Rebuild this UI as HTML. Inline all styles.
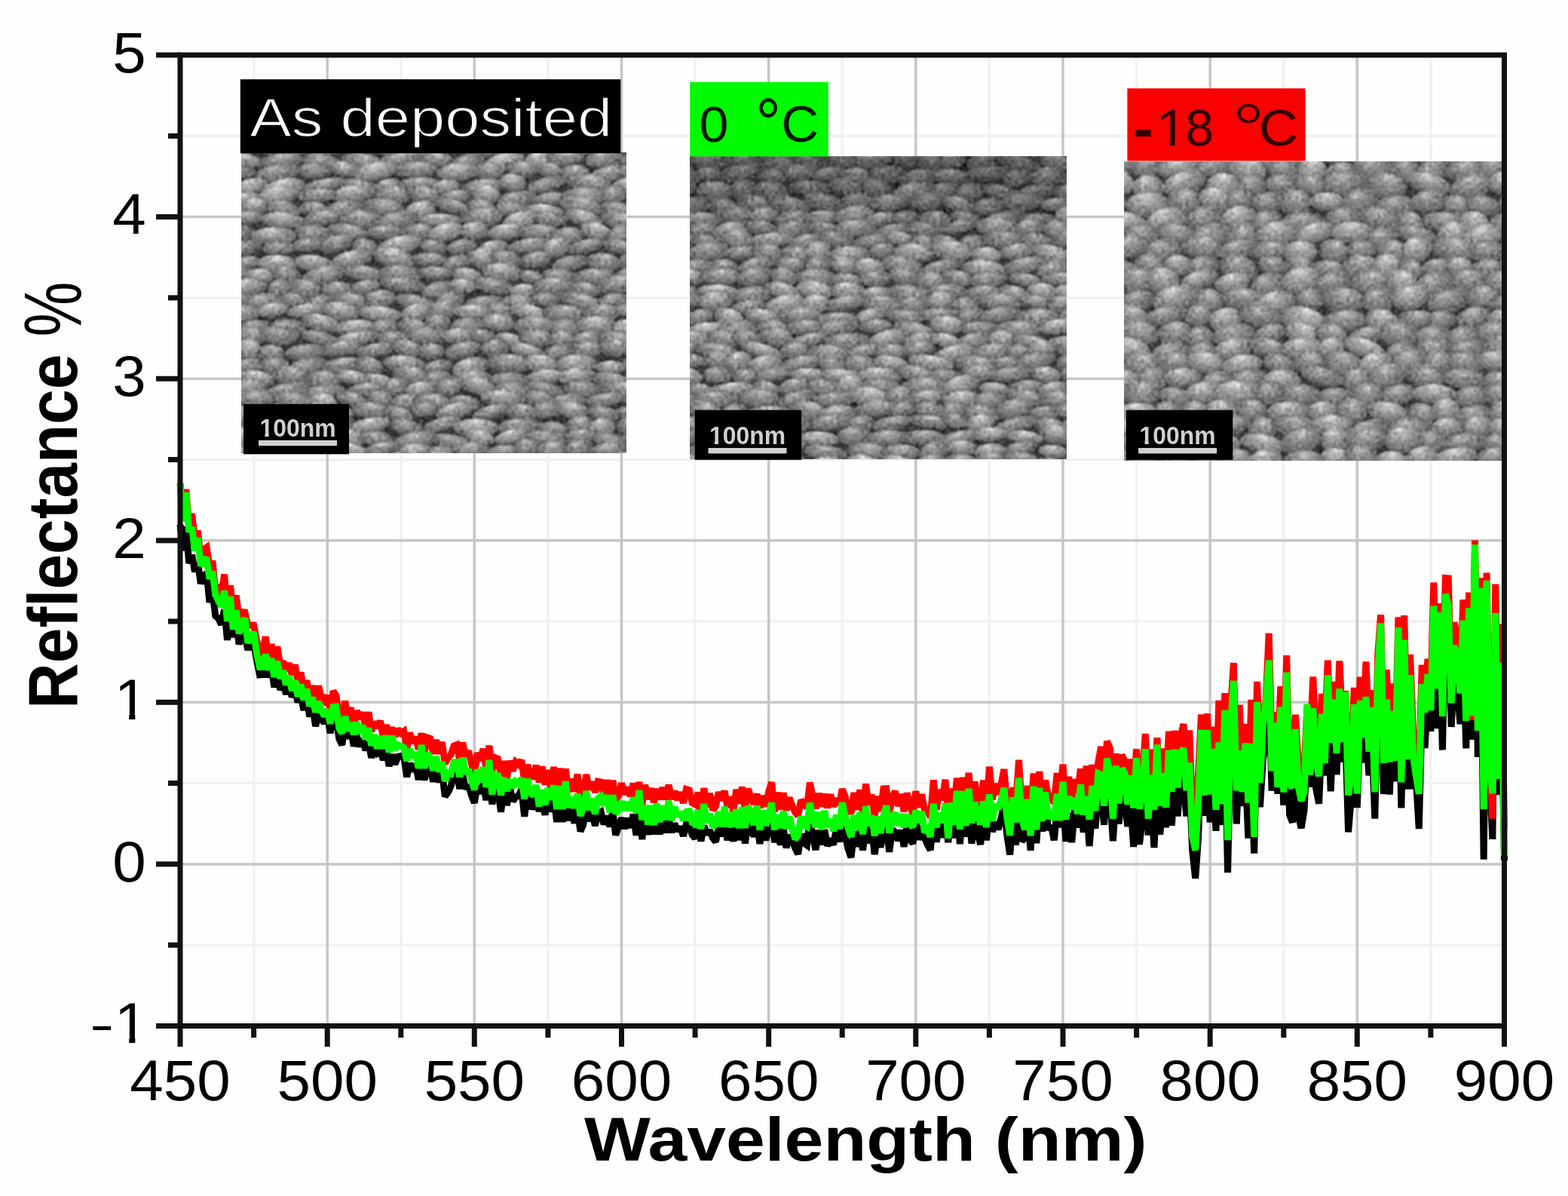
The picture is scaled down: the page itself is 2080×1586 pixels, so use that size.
<!DOCTYPE html><html><head><meta charset="utf-8"><title>Reflectance</title><style>html,body{margin:0;padding:0;background:#fff;}svg{display:block;}#fig{filter:blur(0.75px);}text{font-family:"Liberation Sans",Arial,sans-serif;}</style></head><body>
<svg id="fig" width="2080" height="1586" viewBox="0 0 2080 1586">
<rect width="2080" height="1586" fill="#fefefe"/>
<g><line x1="336.6" y1="73.0" x2="336.6" y2="1360.5" stroke="#f1f1f1" stroke-width="3.5"/><line x1="531.8" y1="73.0" x2="531.8" y2="1360.5" stroke="#f1f1f1" stroke-width="3.5"/><line x1="726.9" y1="73.0" x2="726.9" y2="1360.5" stroke="#f1f1f1" stroke-width="3.5"/><line x1="922.1" y1="73.0" x2="922.1" y2="1360.5" stroke="#f1f1f1" stroke-width="3.5"/><line x1="1117.2" y1="73.0" x2="1117.2" y2="1360.5" stroke="#f1f1f1" stroke-width="3.5"/><line x1="1312.4" y1="73.0" x2="1312.4" y2="1360.5" stroke="#f1f1f1" stroke-width="3.5"/><line x1="1507.6" y1="73.0" x2="1507.6" y2="1360.5" stroke="#f1f1f1" stroke-width="3.5"/><line x1="1702.8" y1="73.0" x2="1702.8" y2="1360.5" stroke="#f1f1f1" stroke-width="3.5"/><line x1="1897.9" y1="73.0" x2="1897.9" y2="1360.5" stroke="#f1f1f1" stroke-width="3.5"/><line x1="239.0" y1="180.3" x2="1995.5" y2="180.3" stroke="#f1f1f1" stroke-width="3.5"/><line x1="239.0" y1="394.9" x2="1995.5" y2="394.9" stroke="#f1f1f1" stroke-width="3.5"/><line x1="239.0" y1="609.5" x2="1995.5" y2="609.5" stroke="#f1f1f1" stroke-width="3.5"/><line x1="239.0" y1="824.0" x2="1995.5" y2="824.0" stroke="#f1f1f1" stroke-width="3.5"/><line x1="239.0" y1="1038.6" x2="1995.5" y2="1038.6" stroke="#f1f1f1" stroke-width="3.5"/><line x1="239.0" y1="1253.2" x2="1995.5" y2="1253.2" stroke="#f1f1f1" stroke-width="3.5"/><line x1="434.2" y1="73.0" x2="434.2" y2="1360.5" stroke="#c6c6c6" stroke-width="3.5"/><line x1="629.3" y1="73.0" x2="629.3" y2="1360.5" stroke="#c6c6c6" stroke-width="3.5"/><line x1="824.5" y1="73.0" x2="824.5" y2="1360.5" stroke="#c6c6c6" stroke-width="3.5"/><line x1="1019.7" y1="73.0" x2="1019.7" y2="1360.5" stroke="#c6c6c6" stroke-width="3.5"/><line x1="1214.8" y1="73.0" x2="1214.8" y2="1360.5" stroke="#c6c6c6" stroke-width="3.5"/><line x1="1410.0" y1="73.0" x2="1410.0" y2="1360.5" stroke="#c6c6c6" stroke-width="3.5"/><line x1="1605.2" y1="73.0" x2="1605.2" y2="1360.5" stroke="#c6c6c6" stroke-width="3.5"/><line x1="1800.3" y1="73.0" x2="1800.3" y2="1360.5" stroke="#c6c6c6" stroke-width="3.5"/><line x1="239.0" y1="1145.9" x2="1995.5" y2="1145.9" stroke="#c6c6c6" stroke-width="3.5"/><line x1="239.0" y1="931.3" x2="1995.5" y2="931.3" stroke="#c6c6c6" stroke-width="3.5"/><line x1="239.0" y1="716.8" x2="1995.5" y2="716.8" stroke="#c6c6c6" stroke-width="3.5"/><line x1="239.0" y1="502.2" x2="1995.5" y2="502.2" stroke="#c6c6c6" stroke-width="3.5"/><line x1="239.0" y1="287.6" x2="1995.5" y2="287.6" stroke="#c6c6c6" stroke-width="3.5"/></g>
<defs>
<radialGradient id="gA" cx="0.5" cy="0.42" r="0.62" fx="0.42" fy="0.12"><stop offset="0" stop-color="#e6e6e6"/><stop offset="0.3" stop-color="#b4b4b4"/><stop offset="0.75" stop-color="#7c7c7c"/><stop offset="1" stop-color="#585858"/></radialGradient>
<radialGradient id="gB" cx="0.5" cy="0.42" r="0.62" fx="0.55" fy="0.15"><stop offset="0" stop-color="#d2d2d2"/><stop offset="0.3" stop-color="#a2a2a2"/><stop offset="0.75" stop-color="#727272"/><stop offset="1" stop-color="#505050"/></radialGradient>
<radialGradient id="gC" cx="0.5" cy="0.42" r="0.62" fx="0.5" fy="0.1"><stop offset="0" stop-color="#f0f0f0"/><stop offset="0.25" stop-color="#c0c0c0"/><stop offset="0.7" stop-color="#8c8c8c"/><stop offset="1" stop-color="#5e5e5e"/></radialGradient>
<radialGradient id="gD" cx="0.5" cy="0.45" r="0.62" fx="0.4" fy="0.2"><stop offset="0" stop-color="#c4c4c4"/><stop offset="0.35" stop-color="#969696"/><stop offset="0.8" stop-color="#6a6a6a"/><stop offset="1" stop-color="#4a4a4a"/></radialGradient>
<linearGradient id="shd" x1="0" y1="0" x2="0" y2="1"><stop offset="0" stop-color="#000" stop-opacity="0.35"/><stop offset="1" stop-color="#000" stop-opacity="0"/></linearGradient>
<filter id="semf" x="0" y="0" width="1" height="1" color-interpolation-filters="sRGB">
<feTurbulence type="fractalNoise" baseFrequency="0.22" numOctaves="2" seed="7" result="n"/>
<feColorMatrix in="n" type="matrix" values="0.33 0.33 0.33 0 0  0.33 0.33 0.33 0 0  0.33 0.33 0.33 0 0  0 0 0 0 1" result="g"/>
<feComposite in="SourceGraphic" in2="g" operator="arithmetic" k1="0" k2="1" k3="0.85" k4="-0.41" result="c"/>
<feGaussianBlur in="c" stdDeviation="0.9"/>
</filter>
</defs>
<svg x="320" y="202" width="511" height="399" viewBox="0 0 511 399" overflow="hidden"><g filter="url(#semf)"><rect width="511" height="399" fill="#3a3a3a"/><ellipse cx="-6" cy="-10" rx="29" ry="12" fill="url(#gD)" transform="rotate(8 -6 -10)"/><ellipse cx="39" cy="-9" rx="22" ry="10" fill="url(#gD)" transform="rotate(-2 39 -9)"/><ellipse cx="76" cy="-7" rx="17" ry="11" fill="url(#gB)" transform="rotate(3 76 -7)"/><ellipse cx="107" cy="-7" rx="21" ry="9" fill="url(#gA)" transform="rotate(14 107 -7)"/><ellipse cx="143" cy="-12" rx="20" ry="11" fill="url(#gB)" transform="rotate(8 143 -12)"/><ellipse cx="187" cy="-7" rx="25" ry="10" fill="url(#gD)" transform="rotate(14 187 -7)"/><ellipse cx="234" cy="-5" rx="23" ry="13" fill="url(#gA)" transform="rotate(-10 234 -5)"/><ellipse cx="286" cy="-10" rx="29" ry="9" fill="url(#gD)" transform="rotate(15 286 -10)"/><ellipse cx="339" cy="-5" rx="31" ry="11" fill="url(#gB)" transform="rotate(-6 339 -5)"/><ellipse cx="393" cy="-8" rx="29" ry="13" fill="url(#gB)" transform="rotate(11 393 -8)"/><ellipse cx="444" cy="-7" rx="27" ry="11" fill="url(#gC)" transform="rotate(2 444 -7)"/><ellipse cx="494" cy="-9" rx="26" ry="10" fill="url(#gB)" transform="rotate(-13 494 -9)"/><ellipse cx="539" cy="-7" rx="29" ry="10" fill="url(#gD)" transform="rotate(-15 539 -7)"/><ellipse cx="6" cy="11" rx="23" ry="9" fill="url(#gA)" transform="rotate(9 6 11)"/><ellipse cx="53" cy="11" rx="29" ry="10" fill="url(#gB)" transform="rotate(-5 53 11)"/><ellipse cx="107" cy="13" rx="26" ry="12" fill="url(#gD)" transform="rotate(9 107 13)"/><ellipse cx="161" cy="13" rx="29" ry="12" fill="url(#gB)" transform="rotate(9 161 13)"/><ellipse cx="210" cy="10" rx="30" ry="11" fill="url(#gB)" transform="rotate(-10 210 10)"/><ellipse cx="258" cy="10" rx="24" ry="10" fill="url(#gB)" transform="rotate(1 258 10)"/><ellipse cx="301" cy="13" rx="22" ry="11" fill="url(#gD)" transform="rotate(-10 301 13)"/><ellipse cx="348" cy="13" rx="29" ry="12" fill="url(#gC)" transform="rotate(-15 348 13)"/><ellipse cx="394" cy="11" rx="18" ry="13" fill="url(#gC)" transform="rotate(-8 394 11)"/><ellipse cx="431" cy="8" rx="26" ry="10" fill="url(#gB)" transform="rotate(-8 431 8)"/><ellipse cx="482" cy="9" rx="26" ry="12" fill="url(#gD)" transform="rotate(-6 482 9)"/><ellipse cx="520" cy="10" rx="17" ry="10" fill="url(#gB)" transform="rotate(-8 520 10)"/><ellipse cx="558" cy="15" rx="27" ry="13" fill="url(#gD)" transform="rotate(10 558 15)"/><ellipse cx="-7" cy="27" rx="27" ry="9" fill="url(#gD)" transform="rotate(-2 -7 27)"/><ellipse cx="49" cy="27" rx="31" ry="12" fill="url(#gD)" transform="rotate(-9 49 27)"/><ellipse cx="97" cy="24" rx="23" ry="11" fill="url(#gD)" transform="rotate(-2 97 24)"/><ellipse cx="136" cy="22" rx="19" ry="10" fill="url(#gA)" transform="rotate(11 136 22)"/><ellipse cx="179" cy="25" rx="30" ry="12" fill="url(#gC)" transform="rotate(-12 179 25)"/><ellipse cx="232" cy="23" rx="29" ry="11" fill="url(#gB)" transform="rotate(-1 232 23)"/><ellipse cx="288" cy="26" rx="29" ry="12" fill="url(#gA)" transform="rotate(-4 288 26)"/><ellipse cx="329" cy="25" rx="20" ry="12" fill="url(#gB)" transform="rotate(-0 329 25)"/><ellipse cx="371" cy="22" rx="22" ry="11" fill="url(#gB)" transform="rotate(12 371 22)"/><ellipse cx="409" cy="24" rx="17" ry="10" fill="url(#gB)" transform="rotate(9 409 24)"/><ellipse cx="442" cy="28" rx="20" ry="12" fill="url(#gB)" transform="rotate(-5 442 28)"/><ellipse cx="487" cy="29" rx="27" ry="11" fill="url(#gB)" transform="rotate(-14 487 29)"/><ellipse cx="521" cy="26" rx="19" ry="9" fill="url(#gC)" transform="rotate(8 521 26)"/><ellipse cx="566" cy="24" rx="29" ry="10" fill="url(#gC)" transform="rotate(-8 566 24)"/><ellipse cx="12" cy="46" rx="24" ry="11" fill="url(#gC)" transform="rotate(-15 12 46)"/><ellipse cx="56" cy="47" rx="29" ry="12" fill="url(#gC)" transform="rotate(-12 56 47)"/><ellipse cx="109" cy="44" rx="30" ry="9" fill="url(#gB)" transform="rotate(-13 109 44)"/><ellipse cx="159" cy="47" rx="29" ry="11" fill="url(#gD)" transform="rotate(13 159 47)"/><ellipse cx="195" cy="45" rx="18" ry="10" fill="url(#gA)" transform="rotate(-13 195 45)"/><ellipse cx="235" cy="42" rx="29" ry="9" fill="url(#gB)" transform="rotate(-3 235 42)"/><ellipse cx="272" cy="46" rx="19" ry="10" fill="url(#gA)" transform="rotate(-2 272 46)"/><ellipse cx="320" cy="46" rx="28" ry="11" fill="url(#gB)" transform="rotate(-8 320 46)"/><ellipse cx="360" cy="40" rx="18" ry="12" fill="url(#gA)" transform="rotate(9 360 40)"/><ellipse cx="405" cy="43" rx="27" ry="10" fill="url(#gD)" transform="rotate(-14 405 43)"/><ellipse cx="461" cy="41" rx="31" ry="13" fill="url(#gB)" transform="rotate(9 461 41)"/><ellipse cx="519" cy="44" rx="29" ry="13" fill="url(#gC)" transform="rotate(-8 519 44)"/><ellipse cx="563" cy="41" rx="21" ry="10" fill="url(#gC)" transform="rotate(-13 563 41)"/><ellipse cx="5" cy="63" rx="22" ry="10" fill="url(#gA)" transform="rotate(-6 5 63)"/><ellipse cx="49" cy="57" rx="29" ry="13" fill="url(#gC)" transform="rotate(-13 49 57)"/><ellipse cx="101" cy="57" rx="28" ry="9" fill="url(#gB)" transform="rotate(-3 101 57)"/><ellipse cx="149" cy="55" rx="29" ry="12" fill="url(#gA)" transform="rotate(-7 149 55)"/><ellipse cx="200" cy="56" rx="24" ry="13" fill="url(#gB)" transform="rotate(9 200 56)"/><ellipse cx="241" cy="56" rx="24" ry="12" fill="url(#gB)" transform="rotate(16 241 56)"/><ellipse cx="284" cy="59" rx="21" ry="9" fill="url(#gB)" transform="rotate(-7 284 59)"/><ellipse cx="324" cy="55" rx="19" ry="13" fill="url(#gC)" transform="rotate(10 324 55)"/><ellipse cx="366" cy="62" rx="26" ry="11" fill="url(#gD)" transform="rotate(-9 366 62)"/><ellipse cx="409" cy="62" rx="25" ry="9" fill="url(#gB)" transform="rotate(-8 409 62)"/><ellipse cx="454" cy="59" rx="30" ry="13" fill="url(#gB)" transform="rotate(-2 454 59)"/><ellipse cx="495" cy="56" rx="17" ry="13" fill="url(#gD)" transform="rotate(-15 495 56)"/><ellipse cx="533" cy="55" rx="23" ry="11" fill="url(#gC)" transform="rotate(3 533 55)"/><ellipse cx="20" cy="71" rx="21" ry="11" fill="url(#gA)" transform="rotate(-9 20 71)"/><ellipse cx="56" cy="75" rx="24" ry="11" fill="url(#gD)" transform="rotate(14 56 75)"/><ellipse cx="97" cy="75" rx="20" ry="10" fill="url(#gB)" transform="rotate(7 97 75)"/><ellipse cx="137" cy="75" rx="26" ry="12" fill="url(#gD)" transform="rotate(-9 137 75)"/><ellipse cx="189" cy="73" rx="28" ry="12" fill="url(#gB)" transform="rotate(9 189 73)"/><ellipse cx="237" cy="77" rx="21" ry="12" fill="url(#gC)" transform="rotate(-11 237 77)"/><ellipse cx="279" cy="71" rx="24" ry="9" fill="url(#gB)" transform="rotate(15 279 71)"/><ellipse cx="317" cy="72" rx="19" ry="10" fill="url(#gB)" transform="rotate(7 317 72)"/><ellipse cx="359" cy="75" rx="24" ry="10" fill="url(#gD)" transform="rotate(0 359 75)"/><ellipse cx="401" cy="78" rx="27" ry="9" fill="url(#gC)" transform="rotate(4 401 78)"/><ellipse cx="450" cy="71" rx="30" ry="13" fill="url(#gB)" transform="rotate(11 450 71)"/><ellipse cx="502" cy="77" rx="27" ry="11" fill="url(#gD)" transform="rotate(14 502 77)"/><ellipse cx="550" cy="74" rx="23" ry="13" fill="url(#gB)" transform="rotate(13 550 74)"/><ellipse cx="7" cy="87" rx="23" ry="9" fill="url(#gB)" transform="rotate(-4 7 87)"/><ellipse cx="55" cy="90" rx="30" ry="11" fill="url(#gA)" transform="rotate(4 55 90)"/><ellipse cx="109" cy="87" rx="29" ry="10" fill="url(#gB)" transform="rotate(-10 109 87)"/><ellipse cx="157" cy="89" rx="28" ry="13" fill="url(#gB)" transform="rotate(1 157 89)"/><ellipse cx="207" cy="90" rx="29" ry="12" fill="url(#gD)" transform="rotate(-9 207 90)"/><ellipse cx="264" cy="90" rx="30" ry="9" fill="url(#gA)" transform="rotate(1 264 90)"/><ellipse cx="320" cy="86" rx="28" ry="13" fill="url(#gB)" transform="rotate(-4 320 86)"/><ellipse cx="369" cy="91" rx="23" ry="12" fill="url(#gC)" transform="rotate(-16 369 91)"/><ellipse cx="410" cy="88" rx="23" ry="10" fill="url(#gD)" transform="rotate(6 410 88)"/><ellipse cx="454" cy="87" rx="26" ry="10" fill="url(#gA)" transform="rotate(16 454 87)"/><ellipse cx="503" cy="91" rx="27" ry="12" fill="url(#gB)" transform="rotate(16 503 91)"/><ellipse cx="552" cy="91" rx="29" ry="11" fill="url(#gC)" transform="rotate(6 552 91)"/><ellipse cx="-8" cy="108" rx="24" ry="12" fill="url(#gD)" transform="rotate(-5 -8 108)"/><ellipse cx="43" cy="111" rx="31" ry="12" fill="url(#gA)" transform="rotate(-0 43 111)"/><ellipse cx="96" cy="108" rx="26" ry="12" fill="url(#gD)" transform="rotate(7 96 108)"/><ellipse cx="141" cy="105" rx="28" ry="10" fill="url(#gB)" transform="rotate(9 141 105)"/><ellipse cx="192" cy="105" rx="25" ry="10" fill="url(#gD)" transform="rotate(-3 192 105)"/><ellipse cx="235" cy="105" rx="21" ry="11" fill="url(#gB)" transform="rotate(-1 235 105)"/><ellipse cx="271" cy="106" rx="24" ry="12" fill="url(#gC)" transform="rotate(-14 271 106)"/><ellipse cx="309" cy="104" rx="19" ry="12" fill="url(#gA)" transform="rotate(-3 309 104)"/><ellipse cx="351" cy="105" rx="25" ry="10" fill="url(#gC)" transform="rotate(-7 351 105)"/><ellipse cx="395" cy="106" rx="29" ry="11" fill="url(#gB)" transform="rotate(2 395 106)"/><ellipse cx="433" cy="111" rx="21" ry="12" fill="url(#gB)" transform="rotate(-7 433 111)"/><ellipse cx="470" cy="104" rx="20" ry="11" fill="url(#gC)" transform="rotate(12 470 104)"/><ellipse cx="505" cy="109" rx="20" ry="13" fill="url(#gD)" transform="rotate(-15 505 109)"/><ellipse cx="550" cy="106" rx="26" ry="10" fill="url(#gB)" transform="rotate(9 550 106)"/><ellipse cx="-3" cy="128" rx="31" ry="11" fill="url(#gD)" transform="rotate(-11 -3 128)"/><ellipse cx="51" cy="127" rx="23" ry="9" fill="url(#gD)" transform="rotate(-2 51 127)"/><ellipse cx="89" cy="122" rx="23" ry="9" fill="url(#gD)" transform="rotate(-6 89 122)"/><ellipse cx="126" cy="121" rx="23" ry="11" fill="url(#gB)" transform="rotate(-15 126 121)"/><ellipse cx="164" cy="126" rx="17" ry="12" fill="url(#gD)" transform="rotate(7 164 126)"/><ellipse cx="210" cy="123" rx="30" ry="12" fill="url(#gC)" transform="rotate(-12 210 123)"/><ellipse cx="255" cy="125" rx="18" ry="10" fill="url(#gD)" transform="rotate(8 255 125)"/><ellipse cx="293" cy="125" rx="20" ry="10" fill="url(#gD)" transform="rotate(-9 293 125)"/><ellipse cx="333" cy="128" rx="22" ry="11" fill="url(#gA)" transform="rotate(-15 333 128)"/><ellipse cx="381" cy="124" rx="29" ry="10" fill="url(#gB)" transform="rotate(-7 381 124)"/><ellipse cx="419" cy="126" rx="19" ry="13" fill="url(#gA)" transform="rotate(-16 419 126)"/><ellipse cx="458" cy="124" rx="26" ry="9" fill="url(#gB)" transform="rotate(-13 458 124)"/><ellipse cx="501" cy="125" rx="21" ry="9" fill="url(#gB)" transform="rotate(11 501 125)"/><ellipse cx="534" cy="121" rx="21" ry="9" fill="url(#gA)" transform="rotate(-0 534 121)"/><ellipse cx="568" cy="122" rx="21" ry="13" fill="url(#gD)" transform="rotate(-4 568 122)"/><ellipse cx="6" cy="147" rx="20" ry="9" fill="url(#gB)" transform="rotate(-10 6 147)"/><ellipse cx="48" cy="148" rx="27" ry="12" fill="url(#gC)" transform="rotate(2 48 148)"/><ellipse cx="96" cy="147" rx="27" ry="11" fill="url(#gA)" transform="rotate(7 96 147)"/><ellipse cx="147" cy="142" rx="27" ry="12" fill="url(#gA)" transform="rotate(-11 147 142)"/><ellipse cx="203" cy="140" rx="29" ry="13" fill="url(#gA)" transform="rotate(13 203 140)"/><ellipse cx="249" cy="142" rx="24" ry="9" fill="url(#gB)" transform="rotate(1 249 142)"/><ellipse cx="286" cy="146" rx="19" ry="10" fill="url(#gD)" transform="rotate(-15 286 146)"/><ellipse cx="319" cy="141" rx="18" ry="13" fill="url(#gA)" transform="rotate(12 319 141)"/><ellipse cx="351" cy="142" rx="21" ry="12" fill="url(#gD)" transform="rotate(10 351 142)"/><ellipse cx="391" cy="142" rx="21" ry="11" fill="url(#gB)" transform="rotate(-9 391 142)"/><ellipse cx="436" cy="147" rx="24" ry="10" fill="url(#gD)" transform="rotate(-13 436 147)"/><ellipse cx="480" cy="146" rx="23" ry="13" fill="url(#gB)" transform="rotate(6 480 146)"/><ellipse cx="528" cy="142" rx="30" ry="13" fill="url(#gB)" transform="rotate(-10 528 142)"/><ellipse cx="571" cy="141" rx="22" ry="11" fill="url(#gA)" transform="rotate(-15 571 141)"/><ellipse cx="-6" cy="160" rx="21" ry="10" fill="url(#gD)" transform="rotate(1 -6 160)"/><ellipse cx="24" cy="164" rx="19" ry="10" fill="url(#gC)" transform="rotate(2 24 164)"/><ellipse cx="59" cy="161" rx="21" ry="11" fill="url(#gD)" transform="rotate(15 59 161)"/><ellipse cx="109" cy="164" rx="30" ry="13" fill="url(#gB)" transform="rotate(-14 109 164)"/><ellipse cx="161" cy="160" rx="29" ry="10" fill="url(#gB)" transform="rotate(8 161 160)"/><ellipse cx="212" cy="161" rx="30" ry="12" fill="url(#gD)" transform="rotate(3 212 161)"/><ellipse cx="257" cy="160" rx="24" ry="9" fill="url(#gB)" transform="rotate(2 257 160)"/><ellipse cx="300" cy="164" rx="20" ry="11" fill="url(#gA)" transform="rotate(10 300 164)"/><ellipse cx="346" cy="159" rx="27" ry="12" fill="url(#gA)" transform="rotate(4 346 159)"/><ellipse cx="385" cy="165" rx="18" ry="9" fill="url(#gD)" transform="rotate(11 385 165)"/><ellipse cx="422" cy="165" rx="23" ry="11" fill="url(#gD)" transform="rotate(7 422 165)"/><ellipse cx="468" cy="165" rx="29" ry="11" fill="url(#gB)" transform="rotate(-2 468 165)"/><ellipse cx="518" cy="164" rx="25" ry="13" fill="url(#gD)" transform="rotate(-14 518 164)"/><ellipse cx="571" cy="158" rx="31" ry="11" fill="url(#gB)" transform="rotate(9 571 158)"/><ellipse cx="6" cy="179" rx="29" ry="12" fill="url(#gA)" transform="rotate(-5 6 179)"/><ellipse cx="52" cy="180" rx="17" ry="13" fill="url(#gD)" transform="rotate(-16 52 180)"/><ellipse cx="84" cy="181" rx="21" ry="13" fill="url(#gB)" transform="rotate(5 84 181)"/><ellipse cx="126" cy="182" rx="21" ry="11" fill="url(#gB)" transform="rotate(-3 126 182)"/><ellipse cx="164" cy="179" rx="21" ry="10" fill="url(#gB)" transform="rotate(-12 164 179)"/><ellipse cx="214" cy="175" rx="31" ry="10" fill="url(#gD)" transform="rotate(8 214 175)"/><ellipse cx="261" cy="182" rx="22" ry="11" fill="url(#gD)" transform="rotate(-15 261 182)"/><ellipse cx="293" cy="177" rx="18" ry="9" fill="url(#gC)" transform="rotate(9 293 177)"/><ellipse cx="334" cy="177" rx="27" ry="11" fill="url(#gD)" transform="rotate(10 334 177)"/><ellipse cx="374" cy="183" rx="19" ry="9" fill="url(#gC)" transform="rotate(-4 374 183)"/><ellipse cx="414" cy="178" rx="28" ry="13" fill="url(#gB)" transform="rotate(-7 414 178)"/><ellipse cx="455" cy="182" rx="21" ry="10" fill="url(#gB)" transform="rotate(7 455 182)"/><ellipse cx="502" cy="175" rx="31" ry="12" fill="url(#gB)" transform="rotate(-9 502 175)"/><ellipse cx="548" cy="176" rx="27" ry="9" fill="url(#gA)" transform="rotate(-3 548 176)"/><ellipse cx="-11" cy="198" rx="26" ry="13" fill="url(#gB)" transform="rotate(-2 -11 198)"/><ellipse cx="30" cy="199" rx="26" ry="13" fill="url(#gD)" transform="rotate(-3 30 199)"/><ellipse cx="71" cy="196" rx="19" ry="10" fill="url(#gD)" transform="rotate(10 71 196)"/><ellipse cx="105" cy="199" rx="18" ry="10" fill="url(#gD)" transform="rotate(-12 105 199)"/><ellipse cx="145" cy="197" rx="27" ry="11" fill="url(#gB)" transform="rotate(11 145 197)"/><ellipse cx="183" cy="195" rx="22" ry="13" fill="url(#gB)" transform="rotate(-8 183 195)"/><ellipse cx="233" cy="200" rx="30" ry="11" fill="url(#gD)" transform="rotate(13 233 200)"/><ellipse cx="277" cy="196" rx="20" ry="12" fill="url(#gD)" transform="rotate(-13 277 196)"/><ellipse cx="323" cy="200" rx="27" ry="10" fill="url(#gD)" transform="rotate(-7 323 200)"/><ellipse cx="367" cy="200" rx="23" ry="12" fill="url(#gB)" transform="rotate(0 367 200)"/><ellipse cx="404" cy="195" rx="20" ry="9" fill="url(#gD)" transform="rotate(2 404 195)"/><ellipse cx="451" cy="198" rx="30" ry="11" fill="url(#gB)" transform="rotate(14 451 198)"/><ellipse cx="495" cy="197" rx="24" ry="10" fill="url(#gD)" transform="rotate(-4 495 197)"/><ellipse cx="535" cy="195" rx="22" ry="12" fill="url(#gB)" transform="rotate(6 535 195)"/><ellipse cx="-0" cy="215" rx="27" ry="12" fill="url(#gB)" transform="rotate(-6 -0 215)"/><ellipse cx="42" cy="209" rx="22" ry="9" fill="url(#gC)" transform="rotate(-9 42 209)"/><ellipse cx="89" cy="209" rx="29" ry="9" fill="url(#gA)" transform="rotate(-9 89 209)"/><ellipse cx="132" cy="211" rx="25" ry="13" fill="url(#gA)" transform="rotate(9 132 211)"/><ellipse cx="184" cy="214" rx="29" ry="10" fill="url(#gC)" transform="rotate(6 184 214)"/><ellipse cx="234" cy="212" rx="22" ry="12" fill="url(#gA)" transform="rotate(-12 234 212)"/><ellipse cx="268" cy="209" rx="19" ry="13" fill="url(#gB)" transform="rotate(-15 268 209)"/><ellipse cx="306" cy="211" rx="27" ry="9" fill="url(#gC)" transform="rotate(1 306 211)"/><ellipse cx="344" cy="211" rx="18" ry="13" fill="url(#gD)" transform="rotate(4 344 211)"/><ellipse cx="382" cy="212" rx="27" ry="10" fill="url(#gC)" transform="rotate(15 382 212)"/><ellipse cx="428" cy="214" rx="30" ry="12" fill="url(#gB)" transform="rotate(3 428 214)"/><ellipse cx="479" cy="213" rx="23" ry="12" fill="url(#gB)" transform="rotate(-1 479 213)"/><ellipse cx="526" cy="210" rx="30" ry="10" fill="url(#gC)" transform="rotate(2 526 210)"/><ellipse cx="568" cy="210" rx="24" ry="9" fill="url(#gD)" transform="rotate(-7 568 210)"/><ellipse cx="18" cy="231" rx="21" ry="9" fill="url(#gD)" transform="rotate(-4 18 231)"/><ellipse cx="61" cy="232" rx="25" ry="11" fill="url(#gD)" transform="rotate(0 61 232)"/><ellipse cx="106" cy="226" rx="26" ry="11" fill="url(#gA)" transform="rotate(13 106 226)"/><ellipse cx="152" cy="232" rx="29" ry="10" fill="url(#gC)" transform="rotate(-4 152 232)"/><ellipse cx="191" cy="232" rx="19" ry="12" fill="url(#gD)" transform="rotate(-12 191 232)"/><ellipse cx="228" cy="232" rx="21" ry="12" fill="url(#gB)" transform="rotate(14 228 232)"/><ellipse cx="261" cy="226" rx="17" ry="13" fill="url(#gD)" transform="rotate(2 261 226)"/><ellipse cx="301" cy="230" rx="23" ry="12" fill="url(#gD)" transform="rotate(-7 301 230)"/><ellipse cx="341" cy="226" rx="23" ry="11" fill="url(#gA)" transform="rotate(5 341 226)"/><ellipse cx="389" cy="230" rx="28" ry="13" fill="url(#gB)" transform="rotate(0 389 230)"/><ellipse cx="430" cy="233" rx="21" ry="13" fill="url(#gD)" transform="rotate(-5 430 233)"/><ellipse cx="472" cy="230" rx="27" ry="13" fill="url(#gA)" transform="rotate(2 472 230)"/><ellipse cx="511" cy="233" rx="19" ry="12" fill="url(#gC)" transform="rotate(-2 511 233)"/><ellipse cx="548" cy="232" rx="21" ry="12" fill="url(#gA)" transform="rotate(4 548 232)"/><ellipse cx="12" cy="243" rx="22" ry="12" fill="url(#gB)" transform="rotate(1 12 243)"/><ellipse cx="51" cy="243" rx="26" ry="13" fill="url(#gD)" transform="rotate(4 51 243)"/><ellipse cx="104" cy="246" rx="28" ry="9" fill="url(#gD)" transform="rotate(13 104 246)"/><ellipse cx="153" cy="247" rx="29" ry="9" fill="url(#gA)" transform="rotate(-8 153 247)"/><ellipse cx="203" cy="247" rx="22" ry="10" fill="url(#gD)" transform="rotate(-1 203 247)"/><ellipse cx="247" cy="243" rx="28" ry="12" fill="url(#gD)" transform="rotate(-3 247 243)"/><ellipse cx="288" cy="243" rx="24" ry="10" fill="url(#gA)" transform="rotate(-4 288 243)"/><ellipse cx="320" cy="243" rx="17" ry="9" fill="url(#gD)" transform="rotate(5 320 243)"/><ellipse cx="357" cy="249" rx="21" ry="9" fill="url(#gA)" transform="rotate(14 357 249)"/><ellipse cx="391" cy="247" rx="23" ry="12" fill="url(#gB)" transform="rotate(1 391 247)"/><ellipse cx="425" cy="249" rx="17" ry="13" fill="url(#gB)" transform="rotate(5 425 249)"/><ellipse cx="457" cy="249" rx="20" ry="12" fill="url(#gB)" transform="rotate(-10 457 249)"/><ellipse cx="498" cy="248" rx="24" ry="11" fill="url(#gB)" transform="rotate(7 498 248)"/><ellipse cx="546" cy="246" rx="27" ry="12" fill="url(#gB)" transform="rotate(-3 546 246)"/><ellipse cx="-20" cy="265" rx="18" ry="9" fill="url(#gA)" transform="rotate(15 -20 265)"/><ellipse cx="10" cy="261" rx="17" ry="13" fill="url(#gC)" transform="rotate(7 10 261)"/><ellipse cx="39" cy="266" rx="19" ry="11" fill="url(#gB)" transform="rotate(4 39 266)"/><ellipse cx="86" cy="265" rx="28" ry="11" fill="url(#gD)" transform="rotate(-4 86 265)"/><ellipse cx="133" cy="260" rx="28" ry="10" fill="url(#gB)" transform="rotate(-7 133 260)"/><ellipse cx="178" cy="262" rx="27" ry="9" fill="url(#gB)" transform="rotate(-8 178 262)"/><ellipse cx="219" cy="259" rx="22" ry="11" fill="url(#gB)" transform="rotate(15 219 259)"/><ellipse cx="252" cy="264" rx="18" ry="11" fill="url(#gB)" transform="rotate(-2 252 264)"/><ellipse cx="294" cy="262" rx="25" ry="11" fill="url(#gB)" transform="rotate(-13 294 262)"/><ellipse cx="337" cy="259" rx="19" ry="12" fill="url(#gD)" transform="rotate(-4 337 259)"/><ellipse cx="379" cy="263" rx="25" ry="9" fill="url(#gA)" transform="rotate(14 379 263)"/><ellipse cx="421" cy="265" rx="19" ry="10" fill="url(#gD)" transform="rotate(-5 421 265)"/><ellipse cx="459" cy="262" rx="20" ry="12" fill="url(#gB)" transform="rotate(-7 459 262)"/><ellipse cx="496" cy="259" rx="21" ry="12" fill="url(#gB)" transform="rotate(3 496 259)"/><ellipse cx="541" cy="259" rx="28" ry="10" fill="url(#gC)" transform="rotate(-11 541 259)"/><ellipse cx="11" cy="283" rx="19" ry="11" fill="url(#gD)" transform="rotate(-9 11 283)"/><ellipse cx="45" cy="284" rx="19" ry="13" fill="url(#gD)" transform="rotate(5 45 284)"/><ellipse cx="88" cy="284" rx="28" ry="11" fill="url(#gD)" transform="rotate(-12 88 284)"/><ellipse cx="134" cy="282" rx="28" ry="10" fill="url(#gB)" transform="rotate(-9 134 282)"/><ellipse cx="169" cy="283" rx="19" ry="12" fill="url(#gB)" transform="rotate(11 169 283)"/><ellipse cx="216" cy="280" rx="28" ry="11" fill="url(#gA)" transform="rotate(5 216 280)"/><ellipse cx="261" cy="284" rx="20" ry="9" fill="url(#gD)" transform="rotate(-9 261 284)"/><ellipse cx="304" cy="285" rx="25" ry="13" fill="url(#gA)" transform="rotate(-14 304 285)"/><ellipse cx="355" cy="280" rx="29" ry="13" fill="url(#gB)" transform="rotate(3 355 280)"/><ellipse cx="397" cy="280" rx="24" ry="11" fill="url(#gC)" transform="rotate(5 397 280)"/><ellipse cx="445" cy="281" rx="28" ry="13" fill="url(#gA)" transform="rotate(-1 445 281)"/><ellipse cx="490" cy="285" rx="19" ry="9" fill="url(#gC)" transform="rotate(-1 490 285)"/><ellipse cx="524" cy="283" rx="18" ry="13" fill="url(#gA)" transform="rotate(16 524 283)"/><ellipse cx="569" cy="281" rx="29" ry="12" fill="url(#gC)" transform="rotate(-1 569 281)"/><ellipse cx="20" cy="300" rx="24" ry="11" fill="url(#gC)" transform="rotate(9 20 300)"/><ellipse cx="64" cy="296" rx="25" ry="13" fill="url(#gB)" transform="rotate(9 64 296)"/><ellipse cx="109" cy="302" rx="23" ry="13" fill="url(#gB)" transform="rotate(3 109 302)"/><ellipse cx="147" cy="298" rx="24" ry="9" fill="url(#gC)" transform="rotate(8 147 298)"/><ellipse cx="183" cy="303" rx="22" ry="9" fill="url(#gA)" transform="rotate(11 183 303)"/><ellipse cx="224" cy="295" rx="24" ry="13" fill="url(#gB)" transform="rotate(13 224 295)"/><ellipse cx="260" cy="300" rx="19" ry="11" fill="url(#gD)" transform="rotate(-6 260 300)"/><ellipse cx="304" cy="302" rx="29" ry="13" fill="url(#gB)" transform="rotate(-4 304 302)"/><ellipse cx="356" cy="302" rx="28" ry="10" fill="url(#gD)" transform="rotate(2 356 302)"/><ellipse cx="405" cy="297" rx="26" ry="9" fill="url(#gC)" transform="rotate(-3 405 297)"/><ellipse cx="445" cy="297" rx="25" ry="12" fill="url(#gA)" transform="rotate(-7 445 297)"/><ellipse cx="491" cy="302" rx="27" ry="10" fill="url(#gB)" transform="rotate(10 491 302)"/><ellipse cx="529" cy="302" rx="21" ry="13" fill="url(#gB)" transform="rotate(-15 529 302)"/><ellipse cx="577" cy="303" rx="28" ry="9" fill="url(#gD)" transform="rotate(8 577 303)"/><ellipse cx="10" cy="313" rx="26" ry="13" fill="url(#gB)" transform="rotate(-9 10 313)"/><ellipse cx="62" cy="316" rx="31" ry="11" fill="url(#gD)" transform="rotate(-10 62 316)"/><ellipse cx="110" cy="318" rx="30" ry="10" fill="url(#gD)" transform="rotate(-5 110 318)"/><ellipse cx="166" cy="314" rx="26" ry="9" fill="url(#gB)" transform="rotate(-8 166 314)"/><ellipse cx="204" cy="311" rx="17" ry="12" fill="url(#gB)" transform="rotate(-15 204 311)"/><ellipse cx="237" cy="314" rx="20" ry="10" fill="url(#gC)" transform="rotate(-6 237 314)"/><ellipse cx="275" cy="312" rx="18" ry="11" fill="url(#gB)" transform="rotate(-6 275 312)"/><ellipse cx="315" cy="310" rx="23" ry="11" fill="url(#gA)" transform="rotate(14 315 310)"/><ellipse cx="360" cy="317" rx="25" ry="12" fill="url(#gD)" transform="rotate(3 360 317)"/><ellipse cx="404" cy="314" rx="26" ry="9" fill="url(#gD)" transform="rotate(14 404 314)"/><ellipse cx="453" cy="314" rx="25" ry="11" fill="url(#gD)" transform="rotate(3 453 314)"/><ellipse cx="504" cy="315" rx="30" ry="12" fill="url(#gB)" transform="rotate(11 504 315)"/><ellipse cx="554" cy="316" rx="24" ry="11" fill="url(#gB)" transform="rotate(1 554 316)"/><ellipse cx="18" cy="327" rx="28" ry="11" fill="url(#gB)" transform="rotate(-2 18 327)"/><ellipse cx="72" cy="330" rx="30" ry="12" fill="url(#gD)" transform="rotate(12 72 330)"/><ellipse cx="108" cy="332" rx="19" ry="13" fill="url(#gC)" transform="rotate(8 108 332)"/><ellipse cx="146" cy="327" rx="21" ry="9" fill="url(#gB)" transform="rotate(12 146 327)"/><ellipse cx="184" cy="327" rx="18" ry="12" fill="url(#gD)" transform="rotate(16 184 327)"/><ellipse cx="217" cy="332" rx="19" ry="12" fill="url(#gB)" transform="rotate(-5 217 332)"/><ellipse cx="254" cy="331" rx="26" ry="12" fill="url(#gB)" transform="rotate(8 254 331)"/><ellipse cx="297" cy="332" rx="21" ry="10" fill="url(#gD)" transform="rotate(10 297 332)"/><ellipse cx="347" cy="326" rx="30" ry="11" fill="url(#gA)" transform="rotate(4 347 326)"/><ellipse cx="393" cy="326" rx="20" ry="10" fill="url(#gB)" transform="rotate(7 393 326)"/><ellipse cx="434" cy="330" rx="27" ry="10" fill="url(#gD)" transform="rotate(-6 434 330)"/><ellipse cx="482" cy="328" rx="26" ry="9" fill="url(#gB)" transform="rotate(-5 482 328)"/><ellipse cx="530" cy="325" rx="24" ry="13" fill="url(#gD)" transform="rotate(-7 530 325)"/><ellipse cx="570" cy="327" rx="21" ry="9" fill="url(#gA)" transform="rotate(4 570 327)"/><ellipse cx="10" cy="348" rx="26" ry="13" fill="url(#gD)" transform="rotate(-4 10 348)"/><ellipse cx="46" cy="344" rx="18" ry="11" fill="url(#gB)" transform="rotate(-7 46 344)"/><ellipse cx="86" cy="345" rx="29" ry="10" fill="url(#gD)" transform="rotate(7 86 345)"/><ellipse cx="131" cy="344" rx="18" ry="9" fill="url(#gC)" transform="rotate(9 131 344)"/><ellipse cx="171" cy="342" rx="25" ry="11" fill="url(#gB)" transform="rotate(2 171 342)"/><ellipse cx="208" cy="347" rx="20" ry="10" fill="url(#gB)" transform="rotate(15 208 347)"/><ellipse cx="243" cy="341" rx="17" ry="10" fill="url(#gB)" transform="rotate(-10 243 341)"/><ellipse cx="285" cy="342" rx="28" ry="10" fill="url(#gA)" transform="rotate(-14 285 342)"/><ellipse cx="332" cy="344" rx="27" ry="9" fill="url(#gB)" transform="rotate(-15 332 344)"/><ellipse cx="372" cy="344" rx="22" ry="11" fill="url(#gB)" transform="rotate(5 372 344)"/><ellipse cx="406" cy="341" rx="20" ry="12" fill="url(#gD)" transform="rotate(-9 406 341)"/><ellipse cx="440" cy="342" rx="21" ry="11" fill="url(#gA)" transform="rotate(7 440 342)"/><ellipse cx="480" cy="346" rx="22" ry="10" fill="url(#gD)" transform="rotate(12 480 346)"/><ellipse cx="522" cy="348" rx="27" ry="9" fill="url(#gD)" transform="rotate(12 522 348)"/><ellipse cx="573" cy="341" rx="25" ry="9" fill="url(#gD)" transform="rotate(12 573 341)"/><ellipse cx="25" cy="363" rx="28" ry="10" fill="url(#gC)" transform="rotate(-6 25 363)"/><ellipse cx="76" cy="362" rx="24" ry="10" fill="url(#gC)" transform="rotate(2 76 362)"/><ellipse cx="126" cy="363" rx="27" ry="9" fill="url(#gD)" transform="rotate(-11 126 363)"/><ellipse cx="171" cy="362" rx="28" ry="10" fill="url(#gC)" transform="rotate(-11 171 362)"/><ellipse cx="219" cy="364" rx="21" ry="11" fill="url(#gD)" transform="rotate(13 219 364)"/><ellipse cx="266" cy="361" rx="27" ry="9" fill="url(#gB)" transform="rotate(-15 266 361)"/><ellipse cx="311" cy="365" rx="30" ry="12" fill="url(#gC)" transform="rotate(0 311 365)"/><ellipse cx="369" cy="364" rx="29" ry="12" fill="url(#gD)" transform="rotate(-4 369 364)"/><ellipse cx="413" cy="367" rx="20" ry="10" fill="url(#gB)" transform="rotate(7 413 367)"/><ellipse cx="449" cy="362" rx="18" ry="13" fill="url(#gB)" transform="rotate(-3 449 362)"/><ellipse cx="479" cy="365" rx="18" ry="13" fill="url(#gA)" transform="rotate(-10 479 365)"/><ellipse cx="517" cy="361" rx="20" ry="11" fill="url(#gB)" transform="rotate(-9 517 361)"/><ellipse cx="555" cy="364" rx="24" ry="13" fill="url(#gB)" transform="rotate(9 555 364)"/><ellipse cx="0" cy="378" rx="20" ry="13" fill="url(#gA)" transform="rotate(-7 0 378)"/><ellipse cx="32" cy="376" rx="19" ry="12" fill="url(#gD)" transform="rotate(-4 32 376)"/><ellipse cx="65" cy="381" rx="22" ry="12" fill="url(#gB)" transform="rotate(-13 65 381)"/><ellipse cx="103" cy="381" rx="20" ry="10" fill="url(#gD)" transform="rotate(7 103 381)"/><ellipse cx="143" cy="380" rx="20" ry="13" fill="url(#gA)" transform="rotate(11 143 380)"/><ellipse cx="180" cy="380" rx="22" ry="11" fill="url(#gD)" transform="rotate(8 180 380)"/><ellipse cx="229" cy="383" rx="31" ry="12" fill="url(#gB)" transform="rotate(-13 229 383)"/><ellipse cx="280" cy="384" rx="29" ry="10" fill="url(#gD)" transform="rotate(11 280 384)"/><ellipse cx="316" cy="378" rx="20" ry="10" fill="url(#gC)" transform="rotate(12 316 378)"/><ellipse cx="358" cy="377" rx="23" ry="9" fill="url(#gC)" transform="rotate(-14 358 377)"/><ellipse cx="405" cy="379" rx="30" ry="10" fill="url(#gD)" transform="rotate(7 405 379)"/><ellipse cx="449" cy="377" rx="21" ry="10" fill="url(#gB)" transform="rotate(-5 449 377)"/><ellipse cx="489" cy="383" rx="24" ry="11" fill="url(#gD)" transform="rotate(15 489 383)"/><ellipse cx="528" cy="376" rx="24" ry="12" fill="url(#gD)" transform="rotate(-8 528 376)"/><ellipse cx="566" cy="381" rx="18" ry="11" fill="url(#gD)" transform="rotate(-6 566 381)"/><ellipse cx="11" cy="397" rx="23" ry="10" fill="url(#gD)" transform="rotate(-2 11 397)"/><ellipse cx="52" cy="394" rx="22" ry="13" fill="url(#gC)" transform="rotate(-2 52 394)"/><ellipse cx="97" cy="392" rx="26" ry="10" fill="url(#gC)" transform="rotate(-10 97 392)"/><ellipse cx="143" cy="394" rx="30" ry="9" fill="url(#gC)" transform="rotate(15 143 394)"/><ellipse cx="186" cy="393" rx="24" ry="9" fill="url(#gB)" transform="rotate(-14 186 393)"/><ellipse cx="231" cy="399" rx="24" ry="13" fill="url(#gA)" transform="rotate(-6 231 399)"/><ellipse cx="265" cy="398" rx="19" ry="9" fill="url(#gD)" transform="rotate(4 265 398)"/><ellipse cx="303" cy="395" rx="25" ry="11" fill="url(#gB)" transform="rotate(-6 303 395)"/><ellipse cx="347" cy="398" rx="24" ry="10" fill="url(#gB)" transform="rotate(-7 347 398)"/><ellipse cx="379" cy="392" rx="17" ry="13" fill="url(#gD)" transform="rotate(7 379 392)"/><ellipse cx="412" cy="395" rx="20" ry="13" fill="url(#gB)" transform="rotate(-2 412 395)"/><ellipse cx="448" cy="392" rx="18" ry="12" fill="url(#gD)" transform="rotate(-12 448 392)"/><ellipse cx="485" cy="396" rx="24" ry="11" fill="url(#gB)" transform="rotate(-10 485 396)"/><ellipse cx="531" cy="399" rx="23" ry="10" fill="url(#gB)" transform="rotate(11 531 399)"/><ellipse cx="576" cy="392" rx="29" ry="9" fill="url(#gD)" transform="rotate(-14 576 392)"/><ellipse cx="17" cy="408" rx="23" ry="13" fill="url(#gA)" transform="rotate(8 17 408)"/><ellipse cx="56" cy="408" rx="23" ry="10" fill="url(#gD)" transform="rotate(1 56 408)"/><ellipse cx="102" cy="411" rx="29" ry="12" fill="url(#gB)" transform="rotate(-6 102 411)"/><ellipse cx="142" cy="413" rx="19" ry="9" fill="url(#gB)" transform="rotate(12 142 413)"/><ellipse cx="177" cy="410" rx="19" ry="12" fill="url(#gD)" transform="rotate(-11 177 410)"/><ellipse cx="213" cy="407" rx="22" ry="10" fill="url(#gD)" transform="rotate(7 213 407)"/><ellipse cx="255" cy="410" rx="27" ry="12" fill="url(#gC)" transform="rotate(-10 255 410)"/><ellipse cx="299" cy="411" rx="23" ry="11" fill="url(#gB)" transform="rotate(-6 299 411)"/><ellipse cx="346" cy="414" rx="24" ry="12" fill="url(#gC)" transform="rotate(7 346 414)"/><ellipse cx="388" cy="411" rx="25" ry="11" fill="url(#gD)" transform="rotate(10 388 411)"/><ellipse cx="431" cy="414" rx="19" ry="11" fill="url(#gB)" transform="rotate(-14 431 414)"/><ellipse cx="471" cy="410" rx="26" ry="9" fill="url(#gA)" transform="rotate(-5 471 410)"/><ellipse cx="514" cy="410" rx="25" ry="12" fill="url(#gC)" transform="rotate(13 514 410)"/><ellipse cx="563" cy="413" rx="31" ry="10" fill="url(#gA)" transform="rotate(-4 563 413)"/><rect width="511" height="399" fill="#000" opacity="0.06"/></g></svg>
<svg x="915" y="207" width="500" height="402" viewBox="0 0 500 402" overflow="hidden"><g filter="url(#semf)"><rect width="500" height="402" fill="#3a3a3a"/><ellipse cx="29" cy="-12" rx="30" ry="9" fill="url(#gB)" transform="rotate(8 29 -12)"/><ellipse cx="76" cy="-8" rx="21" ry="12" fill="url(#gB)" transform="rotate(6 76 -8)"/><ellipse cx="123" cy="-6" rx="26" ry="13" fill="url(#gB)" transform="rotate(14 123 -6)"/><ellipse cx="167" cy="-12" rx="23" ry="10" fill="url(#gA)" transform="rotate(-4 167 -12)"/><ellipse cx="219" cy="-5" rx="30" ry="11" fill="url(#gB)" transform="rotate(2 219 -5)"/><ellipse cx="256" cy="-11" rx="17" ry="10" fill="url(#gB)" transform="rotate(-4 256 -11)"/><ellipse cx="295" cy="-9" rx="25" ry="13" fill="url(#gD)" transform="rotate(8 295 -9)"/><ellipse cx="346" cy="-10" rx="28" ry="12" fill="url(#gD)" transform="rotate(-11 346 -10)"/><ellipse cx="398" cy="-8" rx="27" ry="11" fill="url(#gD)" transform="rotate(-7 398 -8)"/><ellipse cx="443" cy="-7" rx="24" ry="12" fill="url(#gD)" transform="rotate(13 443 -7)"/><ellipse cx="487" cy="-7" rx="25" ry="13" fill="url(#gD)" transform="rotate(5 487 -7)"/><ellipse cx="539" cy="-5" rx="28" ry="13" fill="url(#gB)" transform="rotate(-7 539 -5)"/><ellipse cx="25" cy="8" rx="27" ry="11" fill="url(#gD)" transform="rotate(4 25 8)"/><ellipse cx="72" cy="6" rx="27" ry="11" fill="url(#gD)" transform="rotate(4 72 6)"/><ellipse cx="117" cy="11" rx="28" ry="12" fill="url(#gB)" transform="rotate(16 117 11)"/><ellipse cx="159" cy="8" rx="25" ry="9" fill="url(#gD)" transform="rotate(12 159 8)"/><ellipse cx="199" cy="5" rx="24" ry="13" fill="url(#gB)" transform="rotate(14 199 5)"/><ellipse cx="243" cy="4" rx="30" ry="12" fill="url(#gC)" transform="rotate(-10 243 4)"/><ellipse cx="286" cy="4" rx="18" ry="13" fill="url(#gD)" transform="rotate(13 286 4)"/><ellipse cx="318" cy="9" rx="19" ry="13" fill="url(#gB)" transform="rotate(6 318 9)"/><ellipse cx="349" cy="5" rx="18" ry="13" fill="url(#gA)" transform="rotate(-16 349 5)"/><ellipse cx="392" cy="6" rx="26" ry="12" fill="url(#gD)" transform="rotate(-15 392 6)"/><ellipse cx="439" cy="11" rx="28" ry="12" fill="url(#gD)" transform="rotate(12 439 11)"/><ellipse cx="487" cy="9" rx="24" ry="10" fill="url(#gC)" transform="rotate(11 487 9)"/><ellipse cx="529" cy="8" rx="28" ry="13" fill="url(#gD)" transform="rotate(-0 529 8)"/><ellipse cx="-6" cy="28" rx="21" ry="13" fill="url(#gD)" transform="rotate(2 -6 28)"/><ellipse cx="25" cy="24" rx="18" ry="9" fill="url(#gA)" transform="rotate(-1 25 24)"/><ellipse cx="67" cy="23" rx="30" ry="12" fill="url(#gB)" transform="rotate(-9 67 23)"/><ellipse cx="110" cy="27" rx="21" ry="11" fill="url(#gB)" transform="rotate(7 110 27)"/><ellipse cx="146" cy="22" rx="23" ry="11" fill="url(#gA)" transform="rotate(-4 146 22)"/><ellipse cx="185" cy="23" rx="24" ry="9" fill="url(#gA)" transform="rotate(-10 185 23)"/><ellipse cx="221" cy="26" rx="20" ry="11" fill="url(#gC)" transform="rotate(1 221 26)"/><ellipse cx="262" cy="24" rx="27" ry="12" fill="url(#gD)" transform="rotate(-2 262 24)"/><ellipse cx="303" cy="30" rx="25" ry="13" fill="url(#gB)" transform="rotate(-10 303 30)"/><ellipse cx="346" cy="27" rx="28" ry="10" fill="url(#gA)" transform="rotate(4 346 27)"/><ellipse cx="396" cy="23" rx="31" ry="10" fill="url(#gD)" transform="rotate(-3 396 23)"/><ellipse cx="435" cy="29" rx="20" ry="12" fill="url(#gD)" transform="rotate(-14 435 29)"/><ellipse cx="475" cy="27" rx="23" ry="13" fill="url(#gA)" transform="rotate(-7 475 27)"/><ellipse cx="522" cy="28" rx="30" ry="9" fill="url(#gB)" transform="rotate(-12 522 28)"/><ellipse cx="-13" cy="43" rx="22" ry="13" fill="url(#gA)" transform="rotate(-13 -13 43)"/><ellipse cx="34" cy="46" rx="26" ry="13" fill="url(#gA)" transform="rotate(4 34 46)"/><ellipse cx="71" cy="43" rx="18" ry="12" fill="url(#gD)" transform="rotate(-11 71 43)"/><ellipse cx="108" cy="46" rx="24" ry="13" fill="url(#gD)" transform="rotate(10 108 46)"/><ellipse cx="160" cy="42" rx="29" ry="10" fill="url(#gD)" transform="rotate(3 160 42)"/><ellipse cx="209" cy="41" rx="27" ry="12" fill="url(#gD)" transform="rotate(10 209 41)"/><ellipse cx="247" cy="42" rx="22" ry="13" fill="url(#gD)" transform="rotate(13 247 42)"/><ellipse cx="297" cy="47" rx="30" ry="12" fill="url(#gA)" transform="rotate(-12 297 47)"/><ellipse cx="338" cy="46" rx="20" ry="12" fill="url(#gD)" transform="rotate(-10 338 46)"/><ellipse cx="371" cy="48" rx="19" ry="13" fill="url(#gD)" transform="rotate(-13 371 48)"/><ellipse cx="413" cy="48" rx="27" ry="10" fill="url(#gD)" transform="rotate(14 413 48)"/><ellipse cx="460" cy="47" rx="29" ry="10" fill="url(#gD)" transform="rotate(-11 460 47)"/><ellipse cx="500" cy="48" rx="17" ry="11" fill="url(#gB)" transform="rotate(-3 500 48)"/><ellipse cx="531" cy="46" rx="21" ry="10" fill="url(#gD)" transform="rotate(7 531 46)"/><ellipse cx="1" cy="66" rx="27" ry="12" fill="url(#gD)" transform="rotate(-9 1 66)"/><ellipse cx="46" cy="68" rx="23" ry="12" fill="url(#gD)" transform="rotate(13 46 68)"/><ellipse cx="86" cy="64" rx="24" ry="13" fill="url(#gB)" transform="rotate(10 86 64)"/><ellipse cx="130" cy="65" rx="30" ry="12" fill="url(#gB)" transform="rotate(12 130 65)"/><ellipse cx="177" cy="61" rx="28" ry="12" fill="url(#gD)" transform="rotate(13 177 61)"/><ellipse cx="224" cy="60" rx="24" ry="12" fill="url(#gD)" transform="rotate(-2 224 60)"/><ellipse cx="265" cy="62" rx="25" ry="11" fill="url(#gA)" transform="rotate(-5 265 62)"/><ellipse cx="313" cy="60" rx="24" ry="12" fill="url(#gB)" transform="rotate(-0 313 60)"/><ellipse cx="356" cy="64" rx="22" ry="10" fill="url(#gA)" transform="rotate(16 356 64)"/><ellipse cx="396" cy="67" rx="22" ry="12" fill="url(#gD)" transform="rotate(-8 396 67)"/><ellipse cx="443" cy="60" rx="29" ry="12" fill="url(#gD)" transform="rotate(-4 443 60)"/><ellipse cx="486" cy="64" rx="21" ry="9" fill="url(#gA)" transform="rotate(-4 486 64)"/><ellipse cx="525" cy="67" rx="22" ry="11" fill="url(#gC)" transform="rotate(-0 525 67)"/><ellipse cx="565" cy="62" rx="27" ry="12" fill="url(#gC)" transform="rotate(10 565 62)"/><ellipse cx="18" cy="84" rx="26" ry="10" fill="url(#gA)" transform="rotate(0 18 84)"/><ellipse cx="60" cy="79" rx="25" ry="13" fill="url(#gB)" transform="rotate(4 60 79)"/><ellipse cx="98" cy="79" rx="20" ry="11" fill="url(#gC)" transform="rotate(-14 98 79)"/><ellipse cx="137" cy="84" rx="26" ry="12" fill="url(#gB)" transform="rotate(-6 137 84)"/><ellipse cx="176" cy="81" rx="23" ry="9" fill="url(#gC)" transform="rotate(-1 176 81)"/><ellipse cx="218" cy="79" rx="27" ry="13" fill="url(#gC)" transform="rotate(-6 218 79)"/><ellipse cx="254" cy="83" rx="20" ry="9" fill="url(#gC)" transform="rotate(-10 254 83)"/><ellipse cx="286" cy="82" rx="19" ry="10" fill="url(#gD)" transform="rotate(-3 286 82)"/><ellipse cx="325" cy="85" rx="22" ry="13" fill="url(#gB)" transform="rotate(3 325 85)"/><ellipse cx="366" cy="83" rx="21" ry="10" fill="url(#gD)" transform="rotate(14 366 83)"/><ellipse cx="416" cy="83" rx="31" ry="10" fill="url(#gD)" transform="rotate(-14 416 83)"/><ellipse cx="461" cy="85" rx="24" ry="10" fill="url(#gD)" transform="rotate(-1 461 85)"/><ellipse cx="503" cy="79" rx="20" ry="13" fill="url(#gA)" transform="rotate(-13 503 79)"/><ellipse cx="534" cy="84" rx="18" ry="13" fill="url(#gD)" transform="rotate(-2 534 84)"/><ellipse cx="16" cy="98" rx="22" ry="10" fill="url(#gB)" transform="rotate(-4 16 98)"/><ellipse cx="54" cy="100" rx="24" ry="13" fill="url(#gC)" transform="rotate(-8 54 100)"/><ellipse cx="93" cy="95" rx="21" ry="10" fill="url(#gB)" transform="rotate(7 93 95)"/><ellipse cx="135" cy="98" rx="30" ry="12" fill="url(#gB)" transform="rotate(-10 135 98)"/><ellipse cx="176" cy="96" rx="23" ry="10" fill="url(#gB)" transform="rotate(11 176 96)"/><ellipse cx="220" cy="96" rx="28" ry="12" fill="url(#gA)" transform="rotate(-3 220 96)"/><ellipse cx="267" cy="100" rx="26" ry="10" fill="url(#gB)" transform="rotate(-13 267 100)"/><ellipse cx="313" cy="97" rx="26" ry="11" fill="url(#gD)" transform="rotate(-1 313 97)"/><ellipse cx="357" cy="94" rx="24" ry="9" fill="url(#gB)" transform="rotate(-12 357 94)"/><ellipse cx="407" cy="94" rx="27" ry="13" fill="url(#gC)" transform="rotate(-1 407 94)"/><ellipse cx="451" cy="95" rx="21" ry="12" fill="url(#gA)" transform="rotate(-11 451 95)"/><ellipse cx="487" cy="98" rx="18" ry="13" fill="url(#gA)" transform="rotate(11 487 98)"/><ellipse cx="519" cy="94" rx="18" ry="9" fill="url(#gD)" transform="rotate(0 519 94)"/><ellipse cx="549" cy="100" rx="20" ry="13" fill="url(#gB)" transform="rotate(-5 549 100)"/><ellipse cx="-8" cy="111" rx="17" ry="11" fill="url(#gD)" transform="rotate(-9 -8 111)"/><ellipse cx="22" cy="114" rx="20" ry="10" fill="url(#gD)" transform="rotate(13 22 114)"/><ellipse cx="63" cy="110" rx="24" ry="13" fill="url(#gA)" transform="rotate(11 63 110)"/><ellipse cx="109" cy="111" rx="30" ry="9" fill="url(#gC)" transform="rotate(-2 109 111)"/><ellipse cx="154" cy="115" rx="23" ry="12" fill="url(#gB)" transform="rotate(-13 154 115)"/><ellipse cx="194" cy="111" rx="24" ry="11" fill="url(#gD)" transform="rotate(6 194 111)"/><ellipse cx="241" cy="113" rx="26" ry="9" fill="url(#gB)" transform="rotate(-9 241 113)"/><ellipse cx="278" cy="109" rx="18" ry="9" fill="url(#gC)" transform="rotate(6 278 109)"/><ellipse cx="309" cy="116" rx="18" ry="12" fill="url(#gB)" transform="rotate(3 309 116)"/><ellipse cx="339" cy="114" rx="20" ry="9" fill="url(#gB)" transform="rotate(13 339 114)"/><ellipse cx="375" cy="116" rx="18" ry="12" fill="url(#gD)" transform="rotate(-7 375 116)"/><ellipse cx="416" cy="111" rx="29" ry="12" fill="url(#gB)" transform="rotate(2 416 111)"/><ellipse cx="460" cy="113" rx="23" ry="12" fill="url(#gD)" transform="rotate(12 460 113)"/><ellipse cx="506" cy="109" rx="27" ry="13" fill="url(#gD)" transform="rotate(-5 506 109)"/><ellipse cx="550" cy="116" rx="22" ry="11" fill="url(#gB)" transform="rotate(-2 550 116)"/><ellipse cx="24" cy="127" rx="29" ry="13" fill="url(#gB)" transform="rotate(-8 24 127)"/><ellipse cx="67" cy="128" rx="24" ry="9" fill="url(#gB)" transform="rotate(-5 67 128)"/><ellipse cx="103" cy="128" rx="22" ry="12" fill="url(#gB)" transform="rotate(5 103 128)"/><ellipse cx="140" cy="131" rx="19" ry="13" fill="url(#gB)" transform="rotate(11 140 131)"/><ellipse cx="170" cy="126" rx="17" ry="13" fill="url(#gC)" transform="rotate(-14 170 126)"/><ellipse cx="212" cy="131" rx="28" ry="12" fill="url(#gA)" transform="rotate(-3 212 131)"/><ellipse cx="255" cy="125" rx="17" ry="11" fill="url(#gB)" transform="rotate(-11 255 125)"/><ellipse cx="297" cy="128" rx="27" ry="12" fill="url(#gC)" transform="rotate(5 297 128)"/><ellipse cx="347" cy="125" rx="28" ry="13" fill="url(#gC)" transform="rotate(11 347 125)"/><ellipse cx="393" cy="132" rx="20" ry="12" fill="url(#gC)" transform="rotate(3 393 132)"/><ellipse cx="435" cy="126" rx="24" ry="10" fill="url(#gA)" transform="rotate(-8 435 126)"/><ellipse cx="482" cy="131" rx="30" ry="12" fill="url(#gA)" transform="rotate(15 482 131)"/><ellipse cx="528" cy="126" rx="24" ry="10" fill="url(#gB)" transform="rotate(-14 528 126)"/><ellipse cx="9" cy="146" rx="25" ry="9" fill="url(#gD)" transform="rotate(-3 9 146)"/><ellipse cx="46" cy="147" rx="18" ry="11" fill="url(#gD)" transform="rotate(3 46 147)"/><ellipse cx="90" cy="143" rx="27" ry="10" fill="url(#gD)" transform="rotate(-15 90 143)"/><ellipse cx="133" cy="144" rx="20" ry="10" fill="url(#gB)" transform="rotate(5 133 144)"/><ellipse cx="171" cy="144" rx="18" ry="11" fill="url(#gD)" transform="rotate(-12 171 144)"/><ellipse cx="204" cy="145" rx="17" ry="11" fill="url(#gA)" transform="rotate(14 204 145)"/><ellipse cx="238" cy="148" rx="22" ry="13" fill="url(#gA)" transform="rotate(3 238 148)"/><ellipse cx="282" cy="145" rx="28" ry="13" fill="url(#gD)" transform="rotate(13 282 145)"/><ellipse cx="335" cy="146" rx="31" ry="9" fill="url(#gD)" transform="rotate(-16 335 146)"/><ellipse cx="392" cy="150" rx="31" ry="12" fill="url(#gA)" transform="rotate(6 392 150)"/><ellipse cx="444" cy="145" rx="28" ry="11" fill="url(#gB)" transform="rotate(-11 444 145)"/><ellipse cx="485" cy="150" rx="25" ry="13" fill="url(#gD)" transform="rotate(-10 485 150)"/><ellipse cx="529" cy="148" rx="29" ry="13" fill="url(#gB)" transform="rotate(-3 529 148)"/><ellipse cx="2" cy="160" rx="18" ry="10" fill="url(#gA)" transform="rotate(6 2 160)"/><ellipse cx="41" cy="160" rx="29" ry="11" fill="url(#gB)" transform="rotate(1 41 160)"/><ellipse cx="87" cy="159" rx="23" ry="13" fill="url(#gD)" transform="rotate(-12 87 159)"/><ellipse cx="125" cy="160" rx="18" ry="13" fill="url(#gD)" transform="rotate(14 125 160)"/><ellipse cx="168" cy="162" rx="28" ry="13" fill="url(#gD)" transform="rotate(3 168 162)"/><ellipse cx="207" cy="164" rx="22" ry="9" fill="url(#gB)" transform="rotate(4 207 164)"/><ellipse cx="246" cy="162" rx="21" ry="11" fill="url(#gD)" transform="rotate(-2 246 162)"/><ellipse cx="286" cy="159" rx="22" ry="12" fill="url(#gD)" transform="rotate(4 286 159)"/><ellipse cx="320" cy="166" rx="21" ry="13" fill="url(#gB)" transform="rotate(-1 320 166)"/><ellipse cx="355" cy="162" rx="21" ry="11" fill="url(#gB)" transform="rotate(11 355 162)"/><ellipse cx="397" cy="163" rx="26" ry="11" fill="url(#gD)" transform="rotate(-7 397 163)"/><ellipse cx="445" cy="164" rx="22" ry="9" fill="url(#gB)" transform="rotate(8 445 164)"/><ellipse cx="494" cy="163" rx="30" ry="9" fill="url(#gB)" transform="rotate(1 494 163)"/><ellipse cx="539" cy="162" rx="27" ry="13" fill="url(#gD)" transform="rotate(6 539 162)"/><ellipse cx="-7" cy="182" rx="19" ry="12" fill="url(#gD)" transform="rotate(-2 -7 182)"/><ellipse cx="37" cy="179" rx="27" ry="9" fill="url(#gC)" transform="rotate(2 37 179)"/><ellipse cx="83" cy="184" rx="26" ry="12" fill="url(#gD)" transform="rotate(-6 83 184)"/><ellipse cx="123" cy="178" rx="25" ry="10" fill="url(#gA)" transform="rotate(14 123 178)"/><ellipse cx="166" cy="178" rx="25" ry="12" fill="url(#gC)" transform="rotate(9 166 178)"/><ellipse cx="210" cy="179" rx="24" ry="12" fill="url(#gA)" transform="rotate(3 210 179)"/><ellipse cx="248" cy="182" rx="21" ry="9" fill="url(#gA)" transform="rotate(-5 248 182)"/><ellipse cx="294" cy="184" rx="30" ry="13" fill="url(#gD)" transform="rotate(13 294 184)"/><ellipse cx="341" cy="179" rx="27" ry="10" fill="url(#gD)" transform="rotate(2 341 179)"/><ellipse cx="389" cy="181" rx="24" ry="10" fill="url(#gB)" transform="rotate(-4 389 181)"/><ellipse cx="428" cy="184" rx="22" ry="13" fill="url(#gB)" transform="rotate(10 428 184)"/><ellipse cx="467" cy="179" rx="20" ry="11" fill="url(#gC)" transform="rotate(3 467 179)"/><ellipse cx="502" cy="181" rx="19" ry="11" fill="url(#gC)" transform="rotate(5 502 181)"/><ellipse cx="546" cy="178" rx="27" ry="12" fill="url(#gD)" transform="rotate(4 546 178)"/><ellipse cx="-5" cy="193" rx="27" ry="9" fill="url(#gD)" transform="rotate(-10 -5 193)"/><ellipse cx="35" cy="192" rx="23" ry="13" fill="url(#gA)" transform="rotate(-6 35 192)"/><ellipse cx="77" cy="200" rx="24" ry="9" fill="url(#gB)" transform="rotate(-11 77 200)"/><ellipse cx="127" cy="197" rx="28" ry="13" fill="url(#gC)" transform="rotate(-11 127 197)"/><ellipse cx="167" cy="196" rx="18" ry="13" fill="url(#gC)" transform="rotate(-7 167 196)"/><ellipse cx="206" cy="195" rx="29" ry="10" fill="url(#gB)" transform="rotate(-10 206 195)"/><ellipse cx="257" cy="197" rx="30" ry="13" fill="url(#gD)" transform="rotate(9 257 197)"/><ellipse cx="296" cy="197" rx="20" ry="12" fill="url(#gD)" transform="rotate(5 296 197)"/><ellipse cx="334" cy="192" rx="19" ry="13" fill="url(#gA)" transform="rotate(-7 334 192)"/><ellipse cx="366" cy="199" rx="18" ry="13" fill="url(#gD)" transform="rotate(4 366 199)"/><ellipse cx="409" cy="193" rx="30" ry="12" fill="url(#gB)" transform="rotate(8 409 193)"/><ellipse cx="458" cy="193" rx="22" ry="9" fill="url(#gB)" transform="rotate(8 458 193)"/><ellipse cx="499" cy="197" rx="27" ry="13" fill="url(#gD)" transform="rotate(5 499 197)"/><ellipse cx="547" cy="198" rx="29" ry="9" fill="url(#gA)" transform="rotate(10 547 198)"/><ellipse cx="13" cy="213" rx="19" ry="10" fill="url(#gB)" transform="rotate(-12 13 213)"/><ellipse cx="52" cy="214" rx="20" ry="12" fill="url(#gC)" transform="rotate(16 52 214)"/><ellipse cx="98" cy="213" rx="26" ry="10" fill="url(#gA)" transform="rotate(11 98 213)"/><ellipse cx="146" cy="211" rx="30" ry="12" fill="url(#gB)" transform="rotate(1 146 211)"/><ellipse cx="194" cy="216" rx="29" ry="9" fill="url(#gB)" transform="rotate(-3 194 216)"/><ellipse cx="240" cy="212" rx="20" ry="10" fill="url(#gA)" transform="rotate(-13 240 212)"/><ellipse cx="286" cy="213" rx="27" ry="9" fill="url(#gB)" transform="rotate(6 286 213)"/><ellipse cx="332" cy="210" rx="30" ry="9" fill="url(#gD)" transform="rotate(-1 332 210)"/><ellipse cx="373" cy="211" rx="18" ry="10" fill="url(#gD)" transform="rotate(-15 373 211)"/><ellipse cx="412" cy="210" rx="28" ry="10" fill="url(#gD)" transform="rotate(-9 412 210)"/><ellipse cx="461" cy="215" rx="30" ry="13" fill="url(#gB)" transform="rotate(-3 461 215)"/><ellipse cx="517" cy="212" rx="26" ry="12" fill="url(#gA)" transform="rotate(-2 517 212)"/><ellipse cx="568" cy="208" rx="29" ry="9" fill="url(#gD)" transform="rotate(10 568 208)"/><ellipse cx="22" cy="231" rx="28" ry="11" fill="url(#gC)" transform="rotate(-6 22 231)"/><ellipse cx="67" cy="230" rx="24" ry="13" fill="url(#gD)" transform="rotate(-10 67 230)"/><ellipse cx="110" cy="228" rx="21" ry="11" fill="url(#gB)" transform="rotate(6 110 228)"/><ellipse cx="152" cy="227" rx="25" ry="10" fill="url(#gB)" transform="rotate(-1 152 227)"/><ellipse cx="196" cy="227" rx="29" ry="11" fill="url(#gD)" transform="rotate(-7 196 227)"/><ellipse cx="246" cy="225" rx="22" ry="9" fill="url(#gB)" transform="rotate(-2 246 225)"/><ellipse cx="297" cy="231" rx="29" ry="11" fill="url(#gB)" transform="rotate(12 297 231)"/><ellipse cx="341" cy="224" rx="23" ry="12" fill="url(#gC)" transform="rotate(6 341 224)"/><ellipse cx="385" cy="228" rx="28" ry="9" fill="url(#gD)" transform="rotate(1 385 228)"/><ellipse cx="435" cy="230" rx="31" ry="12" fill="url(#gB)" transform="rotate(2 435 230)"/><ellipse cx="488" cy="226" rx="24" ry="10" fill="url(#gC)" transform="rotate(-11 488 226)"/><ellipse cx="538" cy="229" rx="30" ry="11" fill="url(#gA)" transform="rotate(9 538 229)"/><ellipse cx="2" cy="243" rx="30" ry="12" fill="url(#gB)" transform="rotate(-2 2 243)"/><ellipse cx="43" cy="242" rx="21" ry="12" fill="url(#gB)" transform="rotate(12 43 242)"/><ellipse cx="76" cy="241" rx="21" ry="11" fill="url(#gD)" transform="rotate(6 76 241)"/><ellipse cx="115" cy="240" rx="23" ry="13" fill="url(#gB)" transform="rotate(8 115 240)"/><ellipse cx="158" cy="244" rx="30" ry="9" fill="url(#gB)" transform="rotate(-15 158 244)"/><ellipse cx="210" cy="246" rx="31" ry="12" fill="url(#gD)" transform="rotate(-2 210 246)"/><ellipse cx="264" cy="242" rx="28" ry="12" fill="url(#gA)" transform="rotate(-14 264 242)"/><ellipse cx="305" cy="246" rx="24" ry="13" fill="url(#gB)" transform="rotate(-15 305 246)"/><ellipse cx="339" cy="244" rx="21" ry="9" fill="url(#gC)" transform="rotate(13 339 244)"/><ellipse cx="378" cy="245" rx="26" ry="12" fill="url(#gD)" transform="rotate(-16 378 245)"/><ellipse cx="415" cy="243" rx="19" ry="12" fill="url(#gA)" transform="rotate(2 415 243)"/><ellipse cx="451" cy="246" rx="25" ry="9" fill="url(#gB)" transform="rotate(6 451 246)"/><ellipse cx="497" cy="247" rx="30" ry="9" fill="url(#gB)" transform="rotate(-10 497 247)"/><ellipse cx="539" cy="245" rx="22" ry="9" fill="url(#gD)" transform="rotate(-12 539 245)"/><ellipse cx="-12" cy="257" rx="24" ry="9" fill="url(#gC)" transform="rotate(-16 -12 257)"/><ellipse cx="35" cy="258" rx="31" ry="10" fill="url(#gB)" transform="rotate(9 35 258)"/><ellipse cx="96" cy="258" rx="31" ry="9" fill="url(#gA)" transform="rotate(16 96 258)"/><ellipse cx="139" cy="258" rx="19" ry="11" fill="url(#gB)" transform="rotate(-2 139 258)"/><ellipse cx="184" cy="263" rx="29" ry="13" fill="url(#gB)" transform="rotate(5 184 263)"/><ellipse cx="230" cy="259" rx="26" ry="9" fill="url(#gB)" transform="rotate(-11 230 259)"/><ellipse cx="267" cy="260" rx="22" ry="11" fill="url(#gB)" transform="rotate(-2 267 260)"/><ellipse cx="303" cy="256" rx="22" ry="10" fill="url(#gB)" transform="rotate(-8 303 256)"/><ellipse cx="353" cy="262" rx="30" ry="12" fill="url(#gA)" transform="rotate(-12 353 262)"/><ellipse cx="401" cy="261" rx="28" ry="13" fill="url(#gB)" transform="rotate(-8 401 261)"/><ellipse cx="435" cy="259" rx="17" ry="10" fill="url(#gB)" transform="rotate(-2 435 259)"/><ellipse cx="466" cy="256" rx="17" ry="13" fill="url(#gA)" transform="rotate(13 466 256)"/><ellipse cx="512" cy="261" rx="29" ry="9" fill="url(#gB)" transform="rotate(13 512 261)"/><ellipse cx="558" cy="257" rx="19" ry="13" fill="url(#gB)" transform="rotate(-6 558 257)"/><ellipse cx="5" cy="271" rx="17" ry="9" fill="url(#gD)" transform="rotate(10 5 271)"/><ellipse cx="35" cy="270" rx="17" ry="13" fill="url(#gB)" transform="rotate(10 35 270)"/><ellipse cx="65" cy="272" rx="18" ry="13" fill="url(#gA)" transform="rotate(-11 65 272)"/><ellipse cx="100" cy="277" rx="23" ry="13" fill="url(#gA)" transform="rotate(-7 100 277)"/><ellipse cx="148" cy="275" rx="29" ry="10" fill="url(#gB)" transform="rotate(-10 148 275)"/><ellipse cx="189" cy="277" rx="19" ry="10" fill="url(#gD)" transform="rotate(10 189 277)"/><ellipse cx="227" cy="276" rx="23" ry="12" fill="url(#gD)" transform="rotate(6 227 276)"/><ellipse cx="267" cy="276" rx="25" ry="11" fill="url(#gA)" transform="rotate(9 267 276)"/><ellipse cx="320" cy="274" rx="31" ry="10" fill="url(#gC)" transform="rotate(8 320 274)"/><ellipse cx="380" cy="277" rx="31" ry="12" fill="url(#gB)" transform="rotate(12 380 277)"/><ellipse cx="419" cy="275" rx="19" ry="9" fill="url(#gB)" transform="rotate(-4 419 275)"/><ellipse cx="460" cy="271" rx="27" ry="12" fill="url(#gD)" transform="rotate(-15 460 271)"/><ellipse cx="504" cy="276" rx="18" ry="13" fill="url(#gB)" transform="rotate(8 504 276)"/><ellipse cx="539" cy="271" rx="24" ry="10" fill="url(#gD)" transform="rotate(16 539 271)"/><ellipse cx="-3" cy="292" rx="20" ry="12" fill="url(#gA)" transform="rotate(10 -3 292)"/><ellipse cx="37" cy="290" rx="20" ry="11" fill="url(#gD)" transform="rotate(-2 37 290)"/><ellipse cx="72" cy="292" rx="17" ry="10" fill="url(#gB)" transform="rotate(5 72 292)"/><ellipse cx="114" cy="289" rx="28" ry="9" fill="url(#gD)" transform="rotate(-11 114 289)"/><ellipse cx="158" cy="290" rx="26" ry="9" fill="url(#gA)" transform="rotate(1 158 290)"/><ellipse cx="200" cy="291" rx="27" ry="9" fill="url(#gC)" transform="rotate(4 200 291)"/><ellipse cx="251" cy="291" rx="31" ry="11" fill="url(#gA)" transform="rotate(2 251 291)"/><ellipse cx="299" cy="288" rx="30" ry="10" fill="url(#gB)" transform="rotate(12 299 288)"/><ellipse cx="339" cy="291" rx="22" ry="9" fill="url(#gD)" transform="rotate(3 339 291)"/><ellipse cx="383" cy="288" rx="25" ry="11" fill="url(#gB)" transform="rotate(1 383 288)"/><ellipse cx="427" cy="289" rx="29" ry="10" fill="url(#gD)" transform="rotate(-7 427 289)"/><ellipse cx="473" cy="290" rx="20" ry="11" fill="url(#gA)" transform="rotate(8 473 290)"/><ellipse cx="520" cy="289" rx="30" ry="11" fill="url(#gB)" transform="rotate(-1 520 289)"/><ellipse cx="13" cy="310" rx="17" ry="9" fill="url(#gB)" transform="rotate(5 13 310)"/><ellipse cx="55" cy="309" rx="30" ry="9" fill="url(#gC)" transform="rotate(-7 55 309)"/><ellipse cx="101" cy="308" rx="18" ry="10" fill="url(#gB)" transform="rotate(14 101 308)"/><ellipse cx="138" cy="306" rx="21" ry="11" fill="url(#gB)" transform="rotate(-8 138 306)"/><ellipse cx="179" cy="307" rx="24" ry="11" fill="url(#gD)" transform="rotate(10 179 307)"/><ellipse cx="212" cy="303" rx="18" ry="13" fill="url(#gC)" transform="rotate(-3 212 303)"/><ellipse cx="255" cy="305" rx="27" ry="9" fill="url(#gD)" transform="rotate(4 255 305)"/><ellipse cx="311" cy="306" rx="30" ry="13" fill="url(#gB)" transform="rotate(-0 311 306)"/><ellipse cx="360" cy="304" rx="26" ry="13" fill="url(#gA)" transform="rotate(-16 360 304)"/><ellipse cx="405" cy="309" rx="21" ry="9" fill="url(#gA)" transform="rotate(5 405 309)"/><ellipse cx="446" cy="307" rx="23" ry="10" fill="url(#gB)" transform="rotate(-7 446 307)"/><ellipse cx="483" cy="309" rx="21" ry="10" fill="url(#gA)" transform="rotate(-10 483 309)"/><ellipse cx="518" cy="304" rx="22" ry="10" fill="url(#gD)" transform="rotate(6 518 304)"/><ellipse cx="564" cy="303" rx="25" ry="9" fill="url(#gD)" transform="rotate(5 564 303)"/><ellipse cx="-9" cy="324" rx="23" ry="9" fill="url(#gD)" transform="rotate(-5 -9 324)"/><ellipse cx="36" cy="322" rx="30" ry="12" fill="url(#gD)" transform="rotate(-3 36 322)"/><ellipse cx="91" cy="321" rx="28" ry="13" fill="url(#gB)" transform="rotate(4 91 321)"/><ellipse cx="143" cy="321" rx="26" ry="10" fill="url(#gD)" transform="rotate(-15 143 321)"/><ellipse cx="193" cy="322" rx="30" ry="10" fill="url(#gD)" transform="rotate(-3 193 322)"/><ellipse cx="239" cy="319" rx="29" ry="13" fill="url(#gC)" transform="rotate(10 239 319)"/><ellipse cx="278" cy="318" rx="20" ry="13" fill="url(#gB)" transform="rotate(-8 278 318)"/><ellipse cx="317" cy="319" rx="24" ry="9" fill="url(#gA)" transform="rotate(-6 317 319)"/><ellipse cx="360" cy="323" rx="24" ry="12" fill="url(#gC)" transform="rotate(-7 360 323)"/><ellipse cx="398" cy="324" rx="23" ry="13" fill="url(#gD)" transform="rotate(-10 398 324)"/><ellipse cx="445" cy="320" rx="25" ry="11" fill="url(#gB)" transform="rotate(13 445 320)"/><ellipse cx="486" cy="323" rx="23" ry="13" fill="url(#gB)" transform="rotate(9 486 323)"/><ellipse cx="532" cy="324" rx="27" ry="11" fill="url(#gB)" transform="rotate(3 532 324)"/><ellipse cx="19" cy="337" rx="26" ry="12" fill="url(#gB)" transform="rotate(15 19 337)"/><ellipse cx="59" cy="340" rx="18" ry="12" fill="url(#gD)" transform="rotate(-16 59 340)"/><ellipse cx="104" cy="340" rx="31" ry="9" fill="url(#gB)" transform="rotate(-3 104 340)"/><ellipse cx="157" cy="337" rx="28" ry="13" fill="url(#gB)" transform="rotate(14 157 337)"/><ellipse cx="197" cy="342" rx="24" ry="12" fill="url(#gA)" transform="rotate(-4 197 342)"/><ellipse cx="248" cy="335" rx="30" ry="10" fill="url(#gB)" transform="rotate(-5 248 335)"/><ellipse cx="284" cy="335" rx="18" ry="10" fill="url(#gD)" transform="rotate(-13 284 335)"/><ellipse cx="319" cy="336" rx="20" ry="11" fill="url(#gD)" transform="rotate(4 319 336)"/><ellipse cx="351" cy="337" rx="19" ry="11" fill="url(#gD)" transform="rotate(-10 351 337)"/><ellipse cx="388" cy="342" rx="24" ry="13" fill="url(#gD)" transform="rotate(8 388 342)"/><ellipse cx="431" cy="335" rx="25" ry="13" fill="url(#gB)" transform="rotate(-11 431 335)"/><ellipse cx="471" cy="341" rx="20" ry="10" fill="url(#gD)" transform="rotate(-2 471 341)"/><ellipse cx="505" cy="338" rx="21" ry="9" fill="url(#gD)" transform="rotate(-1 505 338)"/><ellipse cx="540" cy="339" rx="21" ry="11" fill="url(#gB)" transform="rotate(14 540 339)"/><ellipse cx="2" cy="358" rx="27" ry="13" fill="url(#gD)" transform="rotate(-13 2 358)"/><ellipse cx="46" cy="357" rx="24" ry="9" fill="url(#gB)" transform="rotate(15 46 357)"/><ellipse cx="90" cy="356" rx="23" ry="13" fill="url(#gB)" transform="rotate(-8 90 356)"/><ellipse cx="136" cy="356" rx="27" ry="11" fill="url(#gD)" transform="rotate(-3 136 356)"/><ellipse cx="190" cy="352" rx="30" ry="11" fill="url(#gD)" transform="rotate(-9 190 352)"/><ellipse cx="227" cy="354" rx="18" ry="11" fill="url(#gD)" transform="rotate(-10 227 354)"/><ellipse cx="268" cy="354" rx="28" ry="9" fill="url(#gB)" transform="rotate(-10 268 354)"/><ellipse cx="318" cy="352" rx="28" ry="9" fill="url(#gB)" transform="rotate(6 318 352)"/><ellipse cx="352" cy="351" rx="18" ry="10" fill="url(#gD)" transform="rotate(13 352 351)"/><ellipse cx="386" cy="355" rx="19" ry="13" fill="url(#gC)" transform="rotate(-8 386 355)"/><ellipse cx="433" cy="356" rx="31" ry="10" fill="url(#gD)" transform="rotate(-14 433 356)"/><ellipse cx="478" cy="358" rx="21" ry="11" fill="url(#gB)" transform="rotate(10 478 358)"/><ellipse cx="514" cy="356" rx="22" ry="11" fill="url(#gD)" transform="rotate(-12 514 356)"/><ellipse cx="556" cy="353" rx="26" ry="11" fill="url(#gA)" transform="rotate(15 556 353)"/><ellipse cx="-10" cy="371" rx="24" ry="12" fill="url(#gD)" transform="rotate(-1 -10 371)"/><ellipse cx="30" cy="373" rx="19" ry="12" fill="url(#gD)" transform="rotate(-6 30 373)"/><ellipse cx="58" cy="372" rx="17" ry="13" fill="url(#gA)" transform="rotate(-6 58 372)"/><ellipse cx="88" cy="369" rx="17" ry="11" fill="url(#gD)" transform="rotate(4 88 369)"/><ellipse cx="126" cy="370" rx="26" ry="9" fill="url(#gA)" transform="rotate(10 126 370)"/><ellipse cx="171" cy="375" rx="28" ry="10" fill="url(#gC)" transform="rotate(3 171 375)"/><ellipse cx="218" cy="371" rx="22" ry="13" fill="url(#gD)" transform="rotate(-1 218 371)"/><ellipse cx="261" cy="374" rx="29" ry="11" fill="url(#gB)" transform="rotate(-3 261 374)"/><ellipse cx="309" cy="373" rx="28" ry="10" fill="url(#gB)" transform="rotate(-1 309 373)"/><ellipse cx="355" cy="375" rx="30" ry="10" fill="url(#gB)" transform="rotate(-14 355 375)"/><ellipse cx="400" cy="369" rx="24" ry="9" fill="url(#gC)" transform="rotate(-4 400 369)"/><ellipse cx="445" cy="373" rx="24" ry="9" fill="url(#gC)" transform="rotate(7 445 373)"/><ellipse cx="486" cy="369" rx="21" ry="13" fill="url(#gA)" transform="rotate(10 486 369)"/><ellipse cx="521" cy="376" rx="22" ry="12" fill="url(#gD)" transform="rotate(10 521 376)"/><ellipse cx="568" cy="372" rx="30" ry="10" fill="url(#gC)" transform="rotate(-3 568 372)"/><ellipse cx="25" cy="388" rx="28" ry="12" fill="url(#gD)" transform="rotate(-12 25 388)"/><ellipse cx="75" cy="394" rx="29" ry="13" fill="url(#gD)" transform="rotate(10 75 394)"/><ellipse cx="127" cy="388" rx="27" ry="9" fill="url(#gA)" transform="rotate(-12 127 388)"/><ellipse cx="180" cy="393" rx="29" ry="10" fill="url(#gD)" transform="rotate(7 180 393)"/><ellipse cx="236" cy="392" rx="28" ry="12" fill="url(#gB)" transform="rotate(4 236 392)"/><ellipse cx="279" cy="393" rx="27" ry="11" fill="url(#gB)" transform="rotate(1 279 393)"/><ellipse cx="325" cy="391" rx="20" ry="13" fill="url(#gD)" transform="rotate(-14 325 391)"/><ellipse cx="361" cy="387" rx="20" ry="10" fill="url(#gA)" transform="rotate(2 361 387)"/><ellipse cx="399" cy="392" rx="22" ry="11" fill="url(#gA)" transform="rotate(-5 399 392)"/><ellipse cx="440" cy="387" rx="22" ry="10" fill="url(#gD)" transform="rotate(-15 440 387)"/><ellipse cx="482" cy="392" rx="20" ry="9" fill="url(#gA)" transform="rotate(6 482 392)"/><ellipse cx="529" cy="390" rx="30" ry="10" fill="url(#gB)" transform="rotate(-7 529 390)"/><ellipse cx="-9" cy="405" rx="25" ry="11" fill="url(#gC)" transform="rotate(5 -9 405)"/><ellipse cx="38" cy="410" rx="30" ry="11" fill="url(#gC)" transform="rotate(5 38 410)"/><ellipse cx="85" cy="407" rx="30" ry="9" fill="url(#gC)" transform="rotate(2 85 407)"/><ellipse cx="128" cy="408" rx="26" ry="13" fill="url(#gD)" transform="rotate(-7 128 408)"/><ellipse cx="178" cy="411" rx="28" ry="12" fill="url(#gC)" transform="rotate(-6 178 411)"/><ellipse cx="231" cy="409" rx="25" ry="13" fill="url(#gA)" transform="rotate(13 231 409)"/><ellipse cx="279" cy="410" rx="27" ry="12" fill="url(#gA)" transform="rotate(15 279 410)"/><ellipse cx="319" cy="406" rx="20" ry="10" fill="url(#gB)" transform="rotate(-7 319 406)"/><ellipse cx="359" cy="405" rx="22" ry="10" fill="url(#gB)" transform="rotate(1 359 405)"/><ellipse cx="398" cy="404" rx="20" ry="12" fill="url(#gB)" transform="rotate(-2 398 404)"/><ellipse cx="443" cy="404" rx="26" ry="12" fill="url(#gD)" transform="rotate(16 443 404)"/><ellipse cx="484" cy="410" rx="25" ry="9" fill="url(#gD)" transform="rotate(13 484 410)"/><ellipse cx="529" cy="403" rx="22" ry="12" fill="url(#gA)" transform="rotate(-8 529 403)"/><rect width="500" height="402" fill="#000" opacity="0.06"/><rect width="500" height="140" fill="url(#shd)" /></g></svg>
<svg x="1491" y="214" width="501" height="397" viewBox="0 0 501 397" overflow="hidden"><g filter="url(#semf)"><rect width="501" height="397" fill="#3a3a3a"/><ellipse cx="-5" cy="-10" rx="25" ry="14" fill="url(#gD)" transform="rotate(3 -5 -10)"/><ellipse cx="45" cy="-11" rx="30" ry="15" fill="url(#gB)" transform="rotate(18 45 -11)"/><ellipse cx="97" cy="-10" rx="29" ry="15" fill="url(#gB)" transform="rotate(-10 97 -10)"/><ellipse cx="145" cy="-15" rx="30" ry="14" fill="url(#gA)" transform="rotate(-12 145 -15)"/><ellipse cx="193" cy="-8" rx="19" ry="17" fill="url(#gC)" transform="rotate(-1 193 -8)"/><ellipse cx="239" cy="-8" rx="29" ry="16" fill="url(#gD)" transform="rotate(8 239 -8)"/><ellipse cx="293" cy="-12" rx="31" ry="13" fill="url(#gA)" transform="rotate(-13 293 -12)"/><ellipse cx="344" cy="-10" rx="31" ry="15" fill="url(#gC)" transform="rotate(-3 344 -10)"/><ellipse cx="398" cy="-12" rx="25" ry="15" fill="url(#gB)" transform="rotate(15 398 -12)"/><ellipse cx="450" cy="-7" rx="30" ry="17" fill="url(#gD)" transform="rotate(7 450 -7)"/><ellipse cx="498" cy="-10" rx="22" ry="15" fill="url(#gA)" transform="rotate(8 498 -10)"/><ellipse cx="541" cy="-13" rx="29" ry="15" fill="url(#gA)" transform="rotate(-1 541 -13)"/><ellipse cx="-7" cy="7" rx="19" ry="17" fill="url(#gD)" transform="rotate(10 -7 7)"/><ellipse cx="29" cy="7" rx="19" ry="16" fill="url(#gD)" transform="rotate(3 29 7)"/><ellipse cx="74" cy="9" rx="30" ry="14" fill="url(#gA)" transform="rotate(-7 74 9)"/><ellipse cx="118" cy="8" rx="26" ry="12" fill="url(#gD)" transform="rotate(-8 118 8)"/><ellipse cx="162" cy="10" rx="27" ry="18" fill="url(#gC)" transform="rotate(17 162 10)"/><ellipse cx="211" cy="11" rx="23" ry="15" fill="url(#gD)" transform="rotate(13 211 11)"/><ellipse cx="250" cy="13" rx="19" ry="18" fill="url(#gC)" transform="rotate(-2 250 13)"/><ellipse cx="288" cy="15" rx="21" ry="14" fill="url(#gB)" transform="rotate(-7 288 15)"/><ellipse cx="331" cy="9" rx="28" ry="18" fill="url(#gD)" transform="rotate(4 331 9)"/><ellipse cx="373" cy="11" rx="19" ry="16" fill="url(#gD)" transform="rotate(15 373 11)"/><ellipse cx="410" cy="12" rx="22" ry="15" fill="url(#gD)" transform="rotate(-17 410 12)"/><ellipse cx="452" cy="12" rx="26" ry="14" fill="url(#gB)" transform="rotate(-5 452 12)"/><ellipse cx="493" cy="9" rx="23" ry="16" fill="url(#gD)" transform="rotate(-14 493 9)"/><ellipse cx="545" cy="8" rx="31" ry="16" fill="url(#gB)" transform="rotate(-10 545 8)"/><ellipse cx="-9" cy="28" rx="24" ry="16" fill="url(#gC)" transform="rotate(16 -9 28)"/><ellipse cx="32" cy="35" rx="21" ry="17" fill="url(#gA)" transform="rotate(-6 32 35)"/><ellipse cx="80" cy="29" rx="30" ry="15" fill="url(#gA)" transform="rotate(-17 80 29)"/><ellipse cx="131" cy="32" rx="22" ry="17" fill="url(#gC)" transform="rotate(-6 131 32)"/><ellipse cx="170" cy="32" rx="19" ry="16" fill="url(#gD)" transform="rotate(-7 170 32)"/><ellipse cx="209" cy="31" rx="22" ry="14" fill="url(#gD)" transform="rotate(2 209 31)"/><ellipse cx="245" cy="31" rx="23" ry="13" fill="url(#gB)" transform="rotate(18 245 31)"/><ellipse cx="293" cy="29" rx="30" ry="18" fill="url(#gD)" transform="rotate(-2 293 29)"/><ellipse cx="347" cy="32" rx="28" ry="18" fill="url(#gB)" transform="rotate(13 347 32)"/><ellipse cx="404" cy="29" rx="31" ry="13" fill="url(#gA)" transform="rotate(15 404 29)"/><ellipse cx="461" cy="34" rx="30" ry="17" fill="url(#gB)" transform="rotate(-16 461 34)"/><ellipse cx="503" cy="29" rx="20" ry="15" fill="url(#gA)" transform="rotate(1 503 29)"/><ellipse cx="548" cy="30" rx="30" ry="16" fill="url(#gC)" transform="rotate(17 548 30)"/><ellipse cx="-17" cy="58" rx="21" ry="13" fill="url(#gA)" transform="rotate(-12 -17 58)"/><ellipse cx="32" cy="58" rx="30" ry="17" fill="url(#gA)" transform="rotate(-0 32 58)"/><ellipse cx="80" cy="53" rx="23" ry="17" fill="url(#gB)" transform="rotate(1 80 53)"/><ellipse cx="121" cy="51" rx="24" ry="17" fill="url(#gA)" transform="rotate(10 121 51)"/><ellipse cx="154" cy="51" rx="19" ry="15" fill="url(#gD)" transform="rotate(-15 154 51)"/><ellipse cx="191" cy="54" rx="22" ry="14" fill="url(#gD)" transform="rotate(-4 191 54)"/><ellipse cx="227" cy="55" rx="21" ry="18" fill="url(#gB)" transform="rotate(2 227 55)"/><ellipse cx="269" cy="53" rx="23" ry="12" fill="url(#gC)" transform="rotate(-1 269 53)"/><ellipse cx="314" cy="52" rx="25" ry="16" fill="url(#gD)" transform="rotate(-16 314 52)"/><ellipse cx="362" cy="59" rx="28" ry="14" fill="url(#gD)" transform="rotate(-1 362 59)"/><ellipse cx="406" cy="52" rx="25" ry="16" fill="url(#gD)" transform="rotate(-10 406 52)"/><ellipse cx="440" cy="59" rx="18" ry="14" fill="url(#gB)" transform="rotate(10 440 59)"/><ellipse cx="476" cy="58" rx="24" ry="13" fill="url(#gD)" transform="rotate(13 476 58)"/><ellipse cx="518" cy="54" rx="23" ry="13" fill="url(#gB)" transform="rotate(-14 518 54)"/><ellipse cx="555" cy="57" rx="18" ry="13" fill="url(#gA)" transform="rotate(1 555 57)"/><ellipse cx="4" cy="81" rx="29" ry="14" fill="url(#gA)" transform="rotate(12 4 81)"/><ellipse cx="57" cy="79" rx="29" ry="18" fill="url(#gA)" transform="rotate(-17 57 79)"/><ellipse cx="108" cy="75" rx="25" ry="16" fill="url(#gD)" transform="rotate(-14 108 75)"/><ellipse cx="153" cy="76" rx="25" ry="17" fill="url(#gA)" transform="rotate(-9 153 76)"/><ellipse cx="190" cy="80" rx="21" ry="16" fill="url(#gD)" transform="rotate(-9 190 80)"/><ellipse cx="238" cy="82" rx="30" ry="15" fill="url(#gD)" transform="rotate(0 238 82)"/><ellipse cx="291" cy="76" rx="23" ry="16" fill="url(#gD)" transform="rotate(2 291 76)"/><ellipse cx="340" cy="76" rx="30" ry="16" fill="url(#gD)" transform="rotate(14 340 76)"/><ellipse cx="378" cy="82" rx="19" ry="16" fill="url(#gB)" transform="rotate(16 378 82)"/><ellipse cx="423" cy="80" rx="29" ry="13" fill="url(#gB)" transform="rotate(3 423 80)"/><ellipse cx="464" cy="82" rx="21" ry="16" fill="url(#gC)" transform="rotate(6 464 82)"/><ellipse cx="510" cy="82" rx="26" ry="16" fill="url(#gB)" transform="rotate(-7 510 82)"/><ellipse cx="556" cy="79" rx="28" ry="13" fill="url(#gB)" transform="rotate(-6 556 79)"/><ellipse cx="24" cy="98" rx="24" ry="16" fill="url(#gD)" transform="rotate(2 24 98)"/><ellipse cx="70" cy="97" rx="27" ry="17" fill="url(#gD)" transform="rotate(14 70 97)"/><ellipse cx="116" cy="99" rx="30" ry="17" fill="url(#gD)" transform="rotate(-16 116 99)"/><ellipse cx="157" cy="100" rx="21" ry="17" fill="url(#gB)" transform="rotate(-11 157 100)"/><ellipse cx="204" cy="96" rx="29" ry="17" fill="url(#gA)" transform="rotate(-7 204 96)"/><ellipse cx="253" cy="95" rx="27" ry="13" fill="url(#gC)" transform="rotate(-17 253 95)"/><ellipse cx="302" cy="94" rx="28" ry="14" fill="url(#gC)" transform="rotate(-2 302 94)"/><ellipse cx="344" cy="102" rx="21" ry="16" fill="url(#gD)" transform="rotate(-13 344 102)"/><ellipse cx="388" cy="97" rx="29" ry="12" fill="url(#gD)" transform="rotate(14 388 97)"/><ellipse cx="435" cy="97" rx="19" ry="18" fill="url(#gC)" transform="rotate(9 435 97)"/><ellipse cx="476" cy="100" rx="27" ry="16" fill="url(#gC)" transform="rotate(-14 476 100)"/><ellipse cx="524" cy="98" rx="22" ry="15" fill="url(#gD)" transform="rotate(-0 524 98)"/><ellipse cx="567" cy="98" rx="27" ry="16" fill="url(#gB)" transform="rotate(5 567 98)"/><ellipse cx="5" cy="114" rx="30" ry="15" fill="url(#gB)" transform="rotate(-13 5 114)"/><ellipse cx="53" cy="118" rx="27" ry="16" fill="url(#gD)" transform="rotate(-11 53 118)"/><ellipse cx="103" cy="114" rx="28" ry="16" fill="url(#gB)" transform="rotate(9 103 114)"/><ellipse cx="153" cy="116" rx="28" ry="14" fill="url(#gD)" transform="rotate(-16 153 116)"/><ellipse cx="194" cy="119" rx="24" ry="14" fill="url(#gB)" transform="rotate(-5 194 119)"/><ellipse cx="234" cy="120" rx="23" ry="15" fill="url(#gC)" transform="rotate(-0 234 120)"/><ellipse cx="278" cy="119" rx="20" ry="16" fill="url(#gB)" transform="rotate(10 278 119)"/><ellipse cx="316" cy="117" rx="20" ry="13" fill="url(#gD)" transform="rotate(-4 316 117)"/><ellipse cx="356" cy="120" rx="20" ry="16" fill="url(#gB)" transform="rotate(2 356 120)"/><ellipse cx="388" cy="117" rx="20" ry="17" fill="url(#gC)" transform="rotate(-17 388 117)"/><ellipse cx="436" cy="117" rx="30" ry="18" fill="url(#gB)" transform="rotate(15 436 117)"/><ellipse cx="482" cy="119" rx="24" ry="15" fill="url(#gD)" transform="rotate(-1 482 119)"/><ellipse cx="529" cy="120" rx="27" ry="12" fill="url(#gD)" transform="rotate(-10 529 120)"/><ellipse cx="-4" cy="143" rx="28" ry="13" fill="url(#gD)" transform="rotate(16 -4 143)"/><ellipse cx="35" cy="138" rx="22" ry="16" fill="url(#gD)" transform="rotate(11 35 138)"/><ellipse cx="72" cy="138" rx="19" ry="14" fill="url(#gA)" transform="rotate(-0 72 138)"/><ellipse cx="105" cy="139" rx="22" ry="14" fill="url(#gD)" transform="rotate(-13 105 139)"/><ellipse cx="152" cy="142" rx="26" ry="18" fill="url(#gD)" transform="rotate(18 152 142)"/><ellipse cx="198" cy="138" rx="21" ry="12" fill="url(#gD)" transform="rotate(9 198 138)"/><ellipse cx="233" cy="137" rx="19" ry="12" fill="url(#gB)" transform="rotate(7 233 137)"/><ellipse cx="272" cy="143" rx="24" ry="12" fill="url(#gB)" transform="rotate(5 272 143)"/><ellipse cx="313" cy="140" rx="24" ry="17" fill="url(#gB)" transform="rotate(-2 313 140)"/><ellipse cx="348" cy="140" rx="21" ry="17" fill="url(#gC)" transform="rotate(3 348 140)"/><ellipse cx="380" cy="143" rx="18" ry="13" fill="url(#gB)" transform="rotate(13 380 143)"/><ellipse cx="414" cy="141" rx="20" ry="12" fill="url(#gB)" transform="rotate(-12 414 141)"/><ellipse cx="445" cy="140" rx="19" ry="13" fill="url(#gA)" transform="rotate(12 445 140)"/><ellipse cx="482" cy="142" rx="22" ry="12" fill="url(#gB)" transform="rotate(-3 482 142)"/><ellipse cx="516" cy="138" rx="18" ry="18" fill="url(#gA)" transform="rotate(-4 516 138)"/><ellipse cx="550" cy="144" rx="22" ry="13" fill="url(#gB)" transform="rotate(-16 550 144)"/><ellipse cx="16" cy="159" rx="24" ry="18" fill="url(#gB)" transform="rotate(2 16 159)"/><ellipse cx="52" cy="159" rx="22" ry="18" fill="url(#gA)" transform="rotate(7 52 159)"/><ellipse cx="100" cy="157" rx="26" ry="12" fill="url(#gA)" transform="rotate(-17 100 157)"/><ellipse cx="144" cy="161" rx="24" ry="13" fill="url(#gC)" transform="rotate(-11 144 161)"/><ellipse cx="192" cy="164" rx="24" ry="17" fill="url(#gD)" transform="rotate(-17 192 164)"/><ellipse cx="235" cy="158" rx="26" ry="18" fill="url(#gC)" transform="rotate(-11 235 158)"/><ellipse cx="279" cy="161" rx="25" ry="15" fill="url(#gD)" transform="rotate(-12 279 161)"/><ellipse cx="328" cy="161" rx="28" ry="17" fill="url(#gB)" transform="rotate(-5 328 161)"/><ellipse cx="369" cy="161" rx="21" ry="17" fill="url(#gC)" transform="rotate(12 369 161)"/><ellipse cx="413" cy="163" rx="28" ry="17" fill="url(#gD)" transform="rotate(-16 413 163)"/><ellipse cx="459" cy="158" rx="28" ry="17" fill="url(#gD)" transform="rotate(6 459 158)"/><ellipse cx="497" cy="162" rx="21" ry="17" fill="url(#gB)" transform="rotate(13 497 162)"/><ellipse cx="542" cy="160" rx="30" ry="16" fill="url(#gC)" transform="rotate(-18 542 160)"/><ellipse cx="19" cy="184" rx="22" ry="14" fill="url(#gD)" transform="rotate(-10 19 184)"/><ellipse cx="69" cy="182" rx="31" ry="18" fill="url(#gA)" transform="rotate(-14 69 182)"/><ellipse cx="111" cy="185" rx="21" ry="17" fill="url(#gB)" transform="rotate(10 111 185)"/><ellipse cx="156" cy="182" rx="28" ry="15" fill="url(#gB)" transform="rotate(4 156 182)"/><ellipse cx="201" cy="188" rx="28" ry="16" fill="url(#gA)" transform="rotate(-11 201 188)"/><ellipse cx="247" cy="183" rx="19" ry="15" fill="url(#gD)" transform="rotate(4 247 183)"/><ellipse cx="291" cy="184" rx="28" ry="17" fill="url(#gB)" transform="rotate(6 291 184)"/><ellipse cx="338" cy="184" rx="22" ry="18" fill="url(#gD)" transform="rotate(-11 338 184)"/><ellipse cx="380" cy="181" rx="24" ry="16" fill="url(#gC)" transform="rotate(-11 380 181)"/><ellipse cx="431" cy="184" rx="30" ry="16" fill="url(#gD)" transform="rotate(-16 431 184)"/><ellipse cx="476" cy="181" rx="21" ry="17" fill="url(#gB)" transform="rotate(-2 476 181)"/><ellipse cx="510" cy="188" rx="21" ry="13" fill="url(#gD)" transform="rotate(-10 510 188)"/><ellipse cx="557" cy="187" rx="28" ry="15" fill="url(#gD)" transform="rotate(-5 557 187)"/><ellipse cx="6" cy="207" rx="30" ry="18" fill="url(#gB)" transform="rotate(15 6 207)"/><ellipse cx="57" cy="204" rx="30" ry="13" fill="url(#gD)" transform="rotate(-13 57 204)"/><ellipse cx="99" cy="205" rx="19" ry="15" fill="url(#gB)" transform="rotate(-8 99 205)"/><ellipse cx="135" cy="210" rx="22" ry="16" fill="url(#gC)" transform="rotate(-13 135 210)"/><ellipse cx="182" cy="205" rx="30" ry="15" fill="url(#gD)" transform="rotate(9 182 205)"/><ellipse cx="239" cy="211" rx="31" ry="18" fill="url(#gC)" transform="rotate(16 239 211)"/><ellipse cx="292" cy="212" rx="30" ry="15" fill="url(#gB)" transform="rotate(-5 292 212)"/><ellipse cx="342" cy="211" rx="22" ry="15" fill="url(#gC)" transform="rotate(9 342 211)"/><ellipse cx="388" cy="209" rx="25" ry="12" fill="url(#gB)" transform="rotate(1 388 209)"/><ellipse cx="422" cy="210" rx="19" ry="13" fill="url(#gD)" transform="rotate(-5 422 210)"/><ellipse cx="463" cy="208" rx="23" ry="15" fill="url(#gB)" transform="rotate(-18 463 208)"/><ellipse cx="503" cy="208" rx="22" ry="12" fill="url(#gA)" transform="rotate(-2 503 208)"/><ellipse cx="545" cy="209" rx="27" ry="15" fill="url(#gC)" transform="rotate(-16 545 209)"/><ellipse cx="17" cy="228" rx="30" ry="17" fill="url(#gB)" transform="rotate(9 17 228)"/><ellipse cx="68" cy="229" rx="23" ry="17" fill="url(#gB)" transform="rotate(-8 68 229)"/><ellipse cx="101" cy="234" rx="18" ry="16" fill="url(#gD)" transform="rotate(-1 101 234)"/><ellipse cx="147" cy="231" rx="30" ry="17" fill="url(#gD)" transform="rotate(-5 147 231)"/><ellipse cx="194" cy="228" rx="22" ry="12" fill="url(#gB)" transform="rotate(-14 194 228)"/><ellipse cx="237" cy="229" rx="24" ry="14" fill="url(#gC)" transform="rotate(17 237 229)"/><ellipse cx="274" cy="230" rx="22" ry="15" fill="url(#gB)" transform="rotate(12 274 230)"/><ellipse cx="322" cy="231" rx="26" ry="12" fill="url(#gB)" transform="rotate(-14 322 231)"/><ellipse cx="366" cy="229" rx="28" ry="17" fill="url(#gD)" transform="rotate(6 366 229)"/><ellipse cx="411" cy="234" rx="25" ry="17" fill="url(#gD)" transform="rotate(-2 411 234)"/><ellipse cx="451" cy="234" rx="22" ry="16" fill="url(#gD)" transform="rotate(-7 451 234)"/><ellipse cx="496" cy="229" rx="30" ry="18" fill="url(#gD)" transform="rotate(2 496 229)"/><ellipse cx="537" cy="234" rx="23" ry="14" fill="url(#gD)" transform="rotate(-10 537 234)"/><ellipse cx="9" cy="251" rx="28" ry="17" fill="url(#gA)" transform="rotate(16 9 251)"/><ellipse cx="63" cy="254" rx="27" ry="15" fill="url(#gD)" transform="rotate(-8 63 254)"/><ellipse cx="103" cy="253" rx="19" ry="13" fill="url(#gB)" transform="rotate(-13 103 253)"/><ellipse cx="146" cy="249" rx="27" ry="15" fill="url(#gA)" transform="rotate(-13 146 249)"/><ellipse cx="190" cy="247" rx="28" ry="13" fill="url(#gB)" transform="rotate(13 190 247)"/><ellipse cx="237" cy="249" rx="30" ry="15" fill="url(#gA)" transform="rotate(-2 237 249)"/><ellipse cx="275" cy="247" rx="18" ry="13" fill="url(#gC)" transform="rotate(-13 275 247)"/><ellipse cx="318" cy="247" rx="30" ry="12" fill="url(#gC)" transform="rotate(18 318 247)"/><ellipse cx="368" cy="253" rx="21" ry="14" fill="url(#gD)" transform="rotate(-14 368 253)"/><ellipse cx="412" cy="250" rx="24" ry="16" fill="url(#gD)" transform="rotate(2 412 250)"/><ellipse cx="456" cy="250" rx="25" ry="15" fill="url(#gD)" transform="rotate(-11 456 250)"/><ellipse cx="506" cy="247" rx="30" ry="17" fill="url(#gB)" transform="rotate(-7 506 247)"/><ellipse cx="554" cy="246" rx="20" ry="16" fill="url(#gB)" transform="rotate(13 554 246)"/><ellipse cx="23" cy="270" rx="28" ry="18" fill="url(#gB)" transform="rotate(7 23 270)"/><ellipse cx="66" cy="267" rx="24" ry="15" fill="url(#gB)" transform="rotate(4 66 267)"/><ellipse cx="108" cy="267" rx="25" ry="14" fill="url(#gC)" transform="rotate(7 108 267)"/><ellipse cx="157" cy="270" rx="27" ry="14" fill="url(#gC)" transform="rotate(-8 157 270)"/><ellipse cx="206" cy="269" rx="22" ry="13" fill="url(#gD)" transform="rotate(18 206 269)"/><ellipse cx="246" cy="267" rx="21" ry="15" fill="url(#gB)" transform="rotate(-1 246 267)"/><ellipse cx="292" cy="269" rx="29" ry="18" fill="url(#gD)" transform="rotate(18 292 269)"/><ellipse cx="333" cy="269" rx="23" ry="15" fill="url(#gC)" transform="rotate(-16 333 269)"/><ellipse cx="378" cy="267" rx="23" ry="18" fill="url(#gB)" transform="rotate(-16 378 267)"/><ellipse cx="415" cy="268" rx="20" ry="16" fill="url(#gB)" transform="rotate(-5 415 268)"/><ellipse cx="453" cy="267" rx="25" ry="14" fill="url(#gD)" transform="rotate(7 453 267)"/><ellipse cx="493" cy="265" rx="24" ry="14" fill="url(#gA)" transform="rotate(4 493 265)"/><ellipse cx="527" cy="267" rx="19" ry="14" fill="url(#gA)" transform="rotate(-17 527 267)"/><ellipse cx="1" cy="292" rx="23" ry="16" fill="url(#gB)" transform="rotate(-2 1 292)"/><ellipse cx="40" cy="288" rx="20" ry="17" fill="url(#gD)" transform="rotate(-13 40 288)"/><ellipse cx="78" cy="287" rx="25" ry="13" fill="url(#gA)" transform="rotate(-2 78 287)"/><ellipse cx="124" cy="293" rx="23" ry="15" fill="url(#gD)" transform="rotate(-8 124 293)"/><ellipse cx="166" cy="290" rx="25" ry="15" fill="url(#gD)" transform="rotate(-7 166 290)"/><ellipse cx="209" cy="292" rx="26" ry="16" fill="url(#gA)" transform="rotate(-2 209 292)"/><ellipse cx="263" cy="285" rx="31" ry="12" fill="url(#gD)" transform="rotate(15 263 285)"/><ellipse cx="308" cy="290" rx="19" ry="16" fill="url(#gB)" transform="rotate(-10 308 290)"/><ellipse cx="348" cy="286" rx="26" ry="18" fill="url(#gB)" transform="rotate(-17 348 286)"/><ellipse cx="399" cy="286" rx="25" ry="15" fill="url(#gB)" transform="rotate(12 399 286)"/><ellipse cx="452" cy="288" rx="30" ry="14" fill="url(#gD)" transform="rotate(6 452 288)"/><ellipse cx="496" cy="292" rx="21" ry="14" fill="url(#gB)" transform="rotate(3 496 292)"/><ellipse cx="536" cy="292" rx="25" ry="14" fill="url(#gB)" transform="rotate(13 536 292)"/><ellipse cx="-14" cy="307" rx="24" ry="14" fill="url(#gB)" transform="rotate(-11 -14 307)"/><ellipse cx="24" cy="309" rx="24" ry="18" fill="url(#gB)" transform="rotate(-7 24 309)"/><ellipse cx="68" cy="312" rx="22" ry="13" fill="url(#gD)" transform="rotate(12 68 312)"/><ellipse cx="104" cy="307" rx="23" ry="14" fill="url(#gC)" transform="rotate(-6 104 307)"/><ellipse cx="148" cy="307" rx="31" ry="16" fill="url(#gC)" transform="rotate(-2 148 307)"/><ellipse cx="194" cy="307" rx="21" ry="16" fill="url(#gD)" transform="rotate(-5 194 307)"/><ellipse cx="235" cy="310" rx="27" ry="15" fill="url(#gD)" transform="rotate(4 235 310)"/><ellipse cx="281" cy="312" rx="24" ry="12" fill="url(#gD)" transform="rotate(-0 281 312)"/><ellipse cx="322" cy="311" rx="21" ry="17" fill="url(#gB)" transform="rotate(-4 322 311)"/><ellipse cx="363" cy="310" rx="24" ry="14" fill="url(#gB)" transform="rotate(-14 363 310)"/><ellipse cx="411" cy="308" rx="29" ry="13" fill="url(#gC)" transform="rotate(1 411 308)"/><ellipse cx="462" cy="312" rx="24" ry="15" fill="url(#gD)" transform="rotate(-5 462 312)"/><ellipse cx="499" cy="310" rx="23" ry="16" fill="url(#gD)" transform="rotate(9 499 310)"/><ellipse cx="539" cy="312" rx="22" ry="17" fill="url(#gB)" transform="rotate(-6 539 312)"/><ellipse cx="16" cy="335" rx="30" ry="15" fill="url(#gC)" transform="rotate(-3 16 335)"/><ellipse cx="58" cy="332" rx="20" ry="14" fill="url(#gD)" transform="rotate(8 58 332)"/><ellipse cx="93" cy="334" rx="20" ry="17" fill="url(#gB)" transform="rotate(-4 93 334)"/><ellipse cx="129" cy="331" rx="23" ry="15" fill="url(#gA)" transform="rotate(4 129 331)"/><ellipse cx="169" cy="331" rx="20" ry="16" fill="url(#gB)" transform="rotate(1 169 331)"/><ellipse cx="218" cy="333" rx="29" ry="15" fill="url(#gA)" transform="rotate(-1 218 333)"/><ellipse cx="264" cy="332" rx="21" ry="14" fill="url(#gA)" transform="rotate(-1 264 332)"/><ellipse cx="301" cy="332" rx="21" ry="18" fill="url(#gB)" transform="rotate(10 301 332)"/><ellipse cx="349" cy="332" rx="27" ry="13" fill="url(#gC)" transform="rotate(8 349 332)"/><ellipse cx="394" cy="336" rx="19" ry="16" fill="url(#gB)" transform="rotate(17 394 336)"/><ellipse cx="427" cy="331" rx="19" ry="17" fill="url(#gA)" transform="rotate(6 427 331)"/><ellipse cx="465" cy="337" rx="25" ry="14" fill="url(#gD)" transform="rotate(-3 465 337)"/><ellipse cx="510" cy="334" rx="25" ry="18" fill="url(#gC)" transform="rotate(2 510 334)"/><ellipse cx="554" cy="331" rx="23" ry="12" fill="url(#gD)" transform="rotate(-18 554 331)"/><ellipse cx="10" cy="355" rx="21" ry="16" fill="url(#gC)" transform="rotate(-16 10 355)"/><ellipse cx="54" cy="351" rx="28" ry="18" fill="url(#gB)" transform="rotate(-10 54 351)"/><ellipse cx="100" cy="352" rx="19" ry="15" fill="url(#gA)" transform="rotate(2 100 352)"/><ellipse cx="142" cy="351" rx="26" ry="13" fill="url(#gB)" transform="rotate(-15 142 351)"/><ellipse cx="184" cy="355" rx="19" ry="16" fill="url(#gB)" transform="rotate(-4 184 355)"/><ellipse cx="229" cy="352" rx="31" ry="16" fill="url(#gD)" transform="rotate(12 229 352)"/><ellipse cx="275" cy="350" rx="27" ry="14" fill="url(#gC)" transform="rotate(1 275 350)"/><ellipse cx="324" cy="356" rx="31" ry="13" fill="url(#gD)" transform="rotate(-18 324 356)"/><ellipse cx="379" cy="355" rx="30" ry="16" fill="url(#gD)" transform="rotate(-2 379 355)"/><ellipse cx="429" cy="353" rx="22" ry="13" fill="url(#gA)" transform="rotate(-4 429 353)"/><ellipse cx="470" cy="352" rx="19" ry="16" fill="url(#gA)" transform="rotate(-17 470 352)"/><ellipse cx="504" cy="354" rx="22" ry="13" fill="url(#gC)" transform="rotate(5 504 354)"/><ellipse cx="549" cy="351" rx="23" ry="17" fill="url(#gB)" transform="rotate(-3 549 351)"/><ellipse cx="16" cy="376" rx="25" ry="13" fill="url(#gB)" transform="rotate(16 16 376)"/><ellipse cx="56" cy="373" rx="25" ry="14" fill="url(#gB)" transform="rotate(-5 56 373)"/><ellipse cx="101" cy="373" rx="20" ry="15" fill="url(#gB)" transform="rotate(9 101 373)"/><ellipse cx="137" cy="374" rx="18" ry="12" fill="url(#gA)" transform="rotate(8 137 374)"/><ellipse cx="184" cy="374" rx="30" ry="12" fill="url(#gC)" transform="rotate(11 184 374)"/><ellipse cx="235" cy="371" rx="28" ry="17" fill="url(#gB)" transform="rotate(-15 235 371)"/><ellipse cx="281" cy="370" rx="19" ry="18" fill="url(#gA)" transform="rotate(-12 281 370)"/><ellipse cx="322" cy="370" rx="28" ry="16" fill="url(#gB)" transform="rotate(-15 322 370)"/><ellipse cx="371" cy="369" rx="25" ry="18" fill="url(#gA)" transform="rotate(-5 371 369)"/><ellipse cx="409" cy="371" rx="19" ry="16" fill="url(#gD)" transform="rotate(-2 409 371)"/><ellipse cx="453" cy="373" rx="30" ry="14" fill="url(#gD)" transform="rotate(-9 453 373)"/><ellipse cx="497" cy="374" rx="21" ry="14" fill="url(#gD)" transform="rotate(-1 497 374)"/><ellipse cx="541" cy="374" rx="28" ry="16" fill="url(#gD)" transform="rotate(-9 541 374)"/><ellipse cx="-10" cy="393" rx="20" ry="13" fill="url(#gB)" transform="rotate(-2 -10 393)"/><ellipse cx="29" cy="395" rx="23" ry="15" fill="url(#gA)" transform="rotate(-5 29 395)"/><ellipse cx="73" cy="395" rx="23" ry="17" fill="url(#gB)" transform="rotate(-10 73 395)"/><ellipse cx="109" cy="397" rx="21" ry="16" fill="url(#gD)" transform="rotate(12 109 397)"/><ellipse cx="149" cy="396" rx="23" ry="15" fill="url(#gB)" transform="rotate(-2 149 396)"/><ellipse cx="188" cy="397" rx="23" ry="16" fill="url(#gA)" transform="rotate(-11 188 397)"/><ellipse cx="238" cy="399" rx="28" ry="16" fill="url(#gB)" transform="rotate(-4 238 399)"/><ellipse cx="280" cy="393" rx="20" ry="13" fill="url(#gC)" transform="rotate(2 280 393)"/><ellipse cx="315" cy="393" rx="23" ry="18" fill="url(#gD)" transform="rotate(12 315 393)"/><ellipse cx="355" cy="399" rx="22" ry="15" fill="url(#gC)" transform="rotate(2 355 399)"/><ellipse cx="396" cy="393" rx="22" ry="15" fill="url(#gA)" transform="rotate(-8 396 393)"/><ellipse cx="439" cy="393" rx="30" ry="13" fill="url(#gC)" transform="rotate(-10 439 393)"/><ellipse cx="489" cy="393" rx="22" ry="14" fill="url(#gB)" transform="rotate(-11 489 393)"/><ellipse cx="527" cy="398" rx="18" ry="16" fill="url(#gB)" transform="rotate(16 527 398)"/><rect width="501" height="397" fill="#000" opacity="0.06"/></g></svg>
<rect x="318.8" y="105.2" width="504.5" height="98" fill="#000"/>
<text transform="translate(331.3,181.02) scale(1.1553,0.9985)" font-size="72" font-weight="normal" fill="#fff" stroke="#000" stroke-width="1.3">As deposited</text>
<rect x="915.3" y="108.8" width="183.5" height="98.5" fill="#00fa00"/>
<text transform="translate(927.52,187.7) scale(1.0613,1.0174)" font-size="66" font-weight="normal" fill="#001a00">0</text><text transform="translate(1002.53,194.97) scale(1.2667,1.4167)" font-size="66" font-weight="normal" fill="#001a00">°</text><text transform="translate(1036.16,187.7) scale(1.0452,1.0283)" font-size="66" font-weight="normal" fill="#001a00">C</text>
<rect x="1495.4" y="117.2" width="236.2" height="96.2" fill="#fa0000"/>
<text transform="translate(1503.07,206.1) scale(1.2438,1.68)" font-size="66" font-weight="normal" fill="#300000">-</text><text transform="translate(1572.21,193.0) scale(1.029,1.0326)" font-size="66" font-weight="normal" fill="#300000">8</text><text transform="translate(1634.09,204.72) scale(1.6778,1.4722)" font-size="66" font-weight="normal" fill="#300000" stroke="#fa0000" stroke-width="0.9">°</text><text transform="translate(1670.02,193.2) scale(1.0929,1.037)" font-size="66" font-weight="normal" fill="#300000">C</text>
<text transform="translate(1534.1,193) scale(1.1,1.0326)" font-size="66" fill="#300000">1</text>
<rect x="1530" y="186.6" width="21.6" height="7.6" fill="#fa0000"/><rect x="1558.7" y="186.6" width="14" height="7.6" fill="#fa0000"/>
<rect x="323" y="535.8" width="140" height="66.5" fill="#000"/>
<text transform="translate(344.51,579.0) scale(0.9969,1.0545)" font-size="32" font-weight="bold" fill="#d0d0d0">100nm</text>
<rect x="343.5" y="575.1" width="7.9" height="5.4" fill="#000"/><rect x="356.6" y="575.1" width="5.8" height="5.4" fill="#000"/>
<rect x="343" y="583.8" width="104" height="7.4" fill="#cfcfcf"/>
<rect x="921.7" y="543.8" width="141.5" height="66" fill="#000"/>
<text transform="translate(941.01,589.2) scale(0.9969,1.0545)" font-size="32" font-weight="bold" fill="#d0d0d0">100nm</text>
<rect x="940.0" y="585.3" width="7.9" height="5.4" fill="#000"/><rect x="953.1" y="585.3" width="5.8" height="5.4" fill="#000"/>
<rect x="939.5" y="594.0" width="104" height="7.4" fill="#cfcfcf"/>
<rect x="1493.8" y="543.8" width="141.5" height="66" fill="#000"/>
<text transform="translate(1511.61,589.2) scale(0.9969,1.0545)" font-size="32" font-weight="bold" fill="#d0d0d0">100nm</text>
<rect x="1510.6" y="585.3" width="7.9" height="5.4" fill="#000"/><rect x="1523.7" y="585.3" width="5.8" height="5.4" fill="#000"/>
<rect x="1510.1" y="594.0" width="104" height="7.4" fill="#cfcfcf"/>
<g fill="none" stroke-width="9" stroke-linejoin="miter" stroke-miterlimit="2">
<polyline points="239.0,695.8 242.9,730.3 246.8,698.0 250.7,747.0 254.6,735.7 258.5,758.2 262.4,746.2 266.3,773.8 270.2,763.9 274.1,760.1 278.0,798.8 281.9,784.9 285.8,817.0 289.7,820.1 293.6,828.2 297.6,808.3 301.5,848.7 305.4,818.3 309.3,844.8 313.2,824.1 317.1,854.4 321.0,837.3 324.9,842.8 328.8,861.8 332.7,849.3 336.6,853.7 340.5,875.2 344.4,894.9 348.3,894.5 352.2,879.3 356.1,898.2 360.0,884.4 363.9,911.3 367.8,891.3 371.7,914.7 375.6,906.9 379.5,920.5 383.4,906.2 387.3,924.3 391.2,914.5 395.1,931.1 399.0,921.1 402.9,941.9 406.8,923.4 410.7,950.4 414.6,935.2 418.6,963.0 422.5,945.4 426.4,954.1 430.3,958.6 434.2,946.7 438.1,972.3 442.0,947.3 445.9,952.4 449.8,979.7 453.7,987.9 457.6,962.9 461.5,979.2 465.4,967.5 469.3,989.5 473.2,975.2 477.1,990.0 481.0,979.8 484.9,995.0 488.8,984.3 492.7,1004.7 496.6,991.3 500.5,998.8 504.4,996.0 508.3,1007.6 512.2,993.8 516.1,1016.0 520.0,1000.7 523.9,1013.3 527.8,1003.5 531.8,1002.5 535.7,1002.6 539.6,1030.4 543.5,1012.2 547.4,1022.8 551.3,1013.3 555.2,1034.0 559.1,1007.6 563.0,1034.5 566.9,1014.5 570.8,1018.7 574.7,1036.5 578.6,1016.3 582.5,1037.4 586.4,1023.5 590.3,1056.1 594.2,1051.0 598.1,1042.8 602.0,1028.0 605.9,1025.1 609.8,1045.8 613.7,1027.4 617.6,1046.0 621.5,1041.3 625.4,1054.6 629.3,1064.6 633.2,1042.5 637.1,1052.3 641.0,1038.4 644.9,1061.0 648.9,1026.4 652.8,1066.5 656.7,1046.3 660.6,1047.8 664.5,1076.6 668.4,1048.0 672.3,1068.0 676.2,1043.2 680.1,1062.4 684.0,1057.2 687.9,1054.9 691.8,1046.9 695.7,1082.7 699.6,1052.4 703.5,1069.6 707.4,1070.0 711.3,1056.0 715.2,1076.0 719.1,1062.7 723.0,1080.5 726.9,1058.3 730.8,1076.4 734.7,1056.9 738.6,1089.9 742.5,1059.5 746.4,1089.9 750.3,1058.9 754.2,1088.2 758.1,1073.1 762.0,1091.5 766.0,1072.5 769.9,1102.5 773.8,1093.2 777.7,1066.6 781.6,1088.9 785.5,1077.7 789.4,1094.9 793.3,1079.4 797.2,1076.9 801.1,1093.2 805.0,1081.9 808.9,1096.1 812.8,1076.0 816.7,1107.4 820.6,1096.1 824.5,1084.8 828.4,1098.8 832.3,1085.2 836.2,1097.6 840.1,1080.1 844.0,1107.7 847.9,1077.7 851.8,1112.9 855.7,1079.6 859.6,1106.5 863.5,1088.9 867.4,1105.8 871.3,1092.2 875.2,1106.0 879.1,1088.9 883.0,1104.0 887.0,1085.1 890.9,1103.8 894.8,1092.1 898.7,1102.0 902.6,1096.5 906.5,1108.6 910.4,1092.6 914.3,1094.8 918.2,1106.9 922.1,1111.5 926.0,1096.4 929.9,1115.3 933.8,1094.9 937.7,1106.6 941.6,1101.2 945.5,1111.0 949.4,1116.4 953.3,1097.2 957.2,1108.8 961.1,1091.4 965.0,1114.1 968.9,1098.4 972.8,1115.4 976.7,1092.0 980.6,1114.0 984.5,1087.7 988.4,1118.5 992.3,1090.6 996.2,1098.5 1000.1,1109.3 1004.1,1093.3 1008.0,1118.7 1011.9,1094.1 1015.8,1114.1 1019.7,1099.9 1023.6,1082.5 1027.5,1117.0 1031.4,1098.0 1035.3,1120.5 1039.2,1099.0 1043.1,1124.2 1047.0,1107.5 1050.9,1114.4 1054.8,1124.8 1058.7,1132.5 1062.6,1105.9 1066.5,1118.0 1070.4,1120.8 1074.3,1084.9 1078.2,1110.2 1082.1,1126.9 1086.0,1100.9 1089.9,1120.1 1093.8,1100.3 1097.7,1121.8 1101.6,1112.3 1105.5,1120.2 1109.4,1100.0 1113.3,1116.2 1117.2,1095.2 1121.2,1108.5 1125.1,1125.7 1129.0,1137.1 1132.9,1102.9 1136.8,1122.6 1140.7,1099.8 1144.6,1127.4 1148.5,1091.8 1152.4,1118.2 1156.3,1097.5 1160.2,1132.9 1164.1,1105.6 1168.0,1123.6 1171.9,1104.7 1175.8,1093.7 1179.7,1129.7 1183.6,1099.9 1187.5,1103.6 1191.4,1114.6 1195.3,1100.9 1199.2,1122.8 1203.1,1095.2 1207.0,1113.4 1210.9,1118.7 1214.8,1089.7 1218.7,1113.7 1222.6,1095.3 1226.5,1110.9 1230.4,1120.3 1234.3,1127.2 1238.3,1081.6 1242.2,1116.5 1246.1,1091.9 1250.0,1110.6 1253.9,1083.0 1257.8,1117.1 1261.7,1081.0 1265.6,1111.1 1269.5,1074.8 1273.4,1119.1 1277.3,1071.7 1281.2,1109.4 1285.1,1078.8 1289.0,1118.5 1292.9,1081.7 1296.8,1105.5 1300.7,1119.8 1304.6,1083.2 1308.5,1114.3 1312.4,1075.7 1316.3,1102.9 1320.2,1090.3 1324.1,1099.9 1328.0,1085.2 1331.9,1067.3 1335.8,1107.1 1339.7,1133.3 1343.6,1086.8 1347.5,1120.6 1351.5,1050.5 1355.4,1115.5 1359.3,1111.3 1363.2,1084.4 1367.1,1127.7 1371.0,1064.1 1374.9,1118.3 1378.8,1058.0 1382.7,1102.6 1386.6,1062.2 1390.5,1100.5 1394.4,1094.8 1398.3,1114.2 1402.2,1074.9 1406.1,1097.1 1410.0,1058.4 1413.9,1115.9 1417.8,1077.9 1421.7,1117.1 1425.6,1074.3 1429.5,1097.3 1433.4,1069.2 1437.3,1103.7 1441.2,1069.8 1445.1,1121.9 1449.0,1075.0 1452.9,1098.6 1456.8,1052.0 1460.7,1053.4 1464.6,1093.8 1468.5,1026.6 1472.5,1055.3 1476.4,1115.2 1480.3,1057.8 1484.2,1092.5 1488.1,1050.4 1492.0,1064.3 1495.9,1096.0 1499.8,1063.9 1503.7,1123.0 1507.6,1048.6 1511.5,1119.7 1515.4,1085.6 1519.3,1031.5 1523.2,1107.4 1527.1,1064.6 1531.0,1124.0 1534.9,1040.1 1538.8,1106.6 1542.7,1059.9 1546.6,1097.3 1550.5,1028.3 1554.4,1094.7 1558.3,1027.7 1562.2,1082.4 1566.1,1025.8 1570.0,1038.1 1573.9,1082.4 1577.8,1038.1 1581.7,1127.5 1585.7,1164.8 1589.6,1111.2 1593.5,994.1 1597.4,1081.7 1601.3,1012.4 1605.2,1090.5 1609.1,1026.3 1613.0,1101.8 1616.9,988.2 1620.8,1094.1 1624.7,973.8 1628.6,1157.1 1632.5,976.6 1636.4,925.5 1640.3,1092.5 1644.2,1001.0 1648.1,1068.9 1652.0,1022.3 1655.9,1111.5 1659.8,1023.6 1663.7,1131.6 1667.6,957.0 1671.5,1070.2 1675.4,1006.9 1679.3,983.5 1683.2,907.7 1687.1,1048.6 1691.0,1010.7 1694.9,1052.6 1698.8,963.6 1702.8,1067.9 1706.7,932.7 1710.6,1080.7 1714.5,1090.5 1718.4,1008.0 1722.3,1082.4 1726.2,1098.1 1730.1,1074.2 1734.0,991.3 1737.9,1043.7 1741.8,974.4 1745.7,1045.8 1749.6,1065.7 1753.5,979.7 1757.4,1028.5 1761.3,923.0 1765.2,1049.3 1769.1,962.9 1773.0,1027.3 1776.9,944.9 1780.8,1010.6 1784.7,974.2 1788.6,1103.3 1792.5,1056.2 1796.4,971.0 1800.3,1071.1 1804.2,960.7 1808.1,1011.3 1812.0,963.8 1815.9,1028.3 1819.8,980.3 1823.8,1085.6 1827.7,924.6 1831.6,883.8 1835.5,1053.0 1839.4,946.1 1843.3,1053.5 1847.2,963.8 1851.1,1036.2 1855.0,892.5 1858.9,1071.5 1862.8,893.1 1866.7,1046.5 1870.6,931.1 1874.5,1046.0 1878.4,1033.6 1882.3,1099.1 1886.2,947.5 1890.1,991.9 1894.0,926.3 1897.9,969.9 1901.8,845.3 1905.7,966.0 1909.6,860.1 1913.5,994.5 1917.4,815.7 1921.3,817.1 1925.2,963.9 1929.1,889.8 1933.0,912.8 1937.0,960.2 1940.9,846.9 1944.8,992.5 1948.7,848.7 1952.6,980.8 1956.5,755.1 1960.4,1003.9 1964.3,823.2 1968.2,1139.7 1972.1,808.5 1976.0,1029.0 1979.9,1112.9 1983.8,817.5 1987.7,1054.2 1991.6,912.3 1995.5,1141.0" stroke="#000"/>
<polyline points="239.0,641.0 242.9,675.3 246.8,648.8 250.7,698.1 254.6,681.2 258.5,716.7 262.4,703.5 266.3,742.3 270.2,728.9 274.1,726.0 278.0,751.8 281.9,743.8 285.8,784.2 289.7,780.7 293.6,791.3 297.6,761.5 301.5,809.6 305.4,776.4 309.3,807.9 313.2,789.6 317.1,819.9 321.0,811.6 324.9,811.9 328.8,830.0 332.7,828.8 336.6,829.0 340.5,849.0 344.4,866.7 348.3,864.3 352.2,844.4 356.1,870.2 360.0,854.2 363.9,881.7 367.8,857.4 371.7,882.4 375.6,877.2 379.5,889.3 383.4,879.5 387.3,894.9 391.2,881.4 395.1,903.3 399.0,891.9 402.9,914.1 406.8,902.3 410.7,923.7 414.6,909.3 418.6,929.7 422.5,909.6 426.4,925.3 430.3,929.4 434.2,922.5 438.1,941.6 442.0,916.5 445.9,922.2 449.8,950.8 453.7,958.5 457.6,929.7 461.5,950.0 465.4,938.3 469.3,965.3 473.2,942.4 477.1,952.9 481.0,945.0 484.9,964.6 488.8,944.4 492.7,970.0 496.6,957.3 500.5,965.2 504.4,955.9 508.3,977.9 512.2,961.2 516.1,978.0 520.0,964.9 523.9,976.8 527.8,966.8 531.8,972.2 535.7,969.6 539.6,994.0 543.5,971.6 547.4,985.7 551.3,977.0 555.2,993.6 559.1,972.4 563.0,997.1 566.9,978.1 570.8,979.4 574.7,999.6 578.6,981.1 582.5,999.7 586.4,984.0 590.3,1012.6 594.2,1005.0 598.1,1000.9 602.0,989.1 605.9,987.6 609.8,1008.8 613.7,984.6 617.6,1003.1 621.5,995.7 625.4,1012.2 629.3,1028.0 633.2,998.4 637.1,1008.9 641.0,993.0 644.9,1018.8 648.9,988.8 652.8,1022.1 656.7,1004.6 660.6,1006.2 664.5,1029.1 668.4,1009.2 672.3,1032.6 676.2,1008.9 680.1,1022.3 684.0,1010.4 687.9,1013.6 691.8,1008.1 695.7,1035.6 699.6,1014.1 703.5,1029.8 707.4,1029.9 711.3,1014.9 715.2,1037.4 719.1,1016.5 723.0,1040.5 726.9,1021.3 730.8,1046.8 734.7,1017.0 738.6,1049.1 742.5,1019.0 746.4,1046.2 750.3,1019.6 754.2,1050.0 758.1,1033.1 762.0,1049.4 766.0,1026.9 769.9,1056.8 773.8,1049.9 777.7,1027.2 781.6,1047.3 785.5,1036.8 789.4,1050.9 793.3,1036.2 797.2,1037.0 801.1,1058.1 805.0,1034.5 808.9,1054.1 812.8,1034.8 816.7,1061.7 820.6,1054.8 824.5,1038.6 828.4,1053.4 832.3,1044.1 836.2,1055.7 840.1,1038.7 844.0,1060.9 847.9,1037.2 851.8,1067.4 855.7,1040.8 859.6,1059.7 863.5,1045.3 867.4,1064.1 871.3,1046.3 875.2,1060.0 879.1,1044.3 883.0,1060.3 887.0,1040.9 890.9,1059.7 894.8,1049.1 898.7,1060.7 902.6,1050.7 906.5,1064.7 910.4,1046.6 914.3,1047.8 918.2,1064.5 922.1,1066.8 926.0,1050.7 929.9,1080.8 933.8,1045.3 937.7,1070.0 941.6,1052.1 945.5,1074.3 949.4,1069.0 953.3,1050.4 957.2,1061.6 961.1,1048.9 965.0,1070.4 968.9,1056.6 972.8,1075.8 976.7,1047.0 980.6,1065.6 984.5,1043.5 988.4,1073.4 992.3,1045.8 996.2,1058.5 1000.1,1066.3 1004.1,1052.9 1008.0,1071.2 1011.9,1055.2 1015.8,1069.5 1019.7,1049.3 1023.6,1037.4 1027.5,1076.2 1031.4,1050.8 1035.3,1073.5 1039.2,1051.4 1043.1,1074.8 1047.0,1057.7 1050.9,1068.3 1054.8,1077.3 1058.7,1081.7 1062.6,1061.0 1066.5,1065.7 1070.4,1070.9 1074.3,1037.7 1078.2,1056.5 1082.1,1072.1 1086.0,1052.1 1089.9,1069.6 1093.8,1052.9 1097.7,1071.2 1101.6,1053.5 1105.5,1069.5 1109.4,1058.9 1113.3,1067.5 1117.2,1046.4 1121.2,1056.6 1125.1,1073.5 1129.0,1078.5 1132.9,1051.2 1136.8,1073.8 1140.7,1047.5 1144.6,1078.0 1148.5,1039.5 1152.4,1067.6 1156.3,1053.8 1160.2,1082.0 1164.1,1056.0 1168.0,1075.8 1171.9,1046.0 1175.8,1045.7 1179.7,1078.5 1183.6,1057.3 1187.5,1049.3 1191.4,1068.9 1195.3,1053.1 1199.2,1076.4 1203.1,1051.7 1207.0,1066.6 1210.9,1080.6 1214.8,1049.2 1218.7,1070.6 1222.6,1053.3 1226.5,1074.3 1230.4,1074.3 1234.3,1083.9 1238.3,1034.4 1242.2,1073.9 1246.1,1047.3 1250.0,1061.1 1253.9,1033.8 1257.8,1077.3 1261.7,1045.7 1265.6,1069.2 1269.5,1031.7 1273.4,1087.2 1277.3,1030.7 1281.2,1064.6 1285.1,1024.9 1289.0,1072.1 1292.9,1036.4 1296.8,1059.7 1300.7,1068.4 1304.6,1034.8 1308.5,1074.4 1312.4,1016.7 1316.3,1060.2 1320.2,1039.1 1324.1,1053.5 1328.0,1040.4 1331.9,1020.1 1335.8,1067.5 1339.7,1091.5 1343.6,1044.2 1347.5,1070.3 1351.5,1007.7 1355.4,1071.4 1359.3,1081.3 1363.2,1042.0 1367.1,1091.9 1371.0,1025.4 1374.9,1076.6 1378.8,1023.2 1382.7,1071.3 1386.6,1034.8 1390.5,1054.7 1394.4,1057.1 1398.3,1064.9 1402.2,1025.2 1406.1,1053.1 1410.0,1013.7 1413.9,1075.4 1417.8,1030.0 1421.7,1060.1 1425.6,1033.6 1429.5,1051.1 1433.4,1019.6 1437.3,1055.7 1441.2,1015.7 1445.1,1064.5 1449.0,1014.2 1452.9,1051.2 1456.8,1011.0 1460.7,990.0 1464.6,1041.4 1468.5,982.9 1472.5,992.5 1476.4,1065.4 1480.3,999.2 1484.2,1043.6 1488.1,1001.0 1492.0,1009.5 1495.9,1038.0 1499.8,1006.8 1503.7,1046.8 1507.6,993.4 1511.5,1058.4 1515.4,1031.8 1519.3,973.0 1523.2,1048.1 1527.1,993.7 1531.0,1050.7 1534.9,978.3 1538.8,1043.9 1542.7,992.7 1546.6,1041.3 1550.5,969.8 1554.4,1045.4 1558.3,968.9 1562.2,1020.5 1566.1,976.8 1570.0,960.0 1573.9,1026.3 1577.8,968.4 1581.7,1077.6 1585.7,1097.9 1589.6,1026.7 1593.5,947.5 1597.4,1014.4 1601.3,946.3 1605.2,1020.9 1609.1,963.8 1613.0,1049.5 1616.9,928.8 1620.8,1044.3 1624.7,919.2 1628.6,1090.9 1632.5,941.7 1636.4,879.0 1640.3,1039.2 1644.2,934.7 1648.1,1023.2 1652.0,959.9 1655.9,1063.6 1659.8,927.8 1663.7,1072.9 1667.6,903.8 1671.5,1018.2 1675.4,950.2 1679.3,926.7 1683.2,839.8 1687.1,989.7 1691.0,944.3 1694.9,1004.8 1698.8,910.1 1702.8,1012.2 1706.7,869.1 1710.6,1032.0 1714.5,1009.3 1718.4,947.8 1722.3,1013.7 1726.2,1054.7 1730.1,1014.3 1734.0,936.8 1737.9,984.7 1741.8,897.5 1745.7,985.7 1749.6,994.8 1753.5,920.0 1757.4,971.3 1761.3,875.6 1765.2,983.2 1769.1,904.0 1773.0,972.8 1776.9,876.5 1780.8,957.7 1784.7,916.2 1788.6,1046.7 1792.5,993.2 1796.4,912.0 1800.3,1008.4 1804.2,897.6 1808.1,956.5 1812.0,877.4 1815.9,964.4 1819.8,915.1 1823.8,1038.1 1827.7,869.0 1831.6,815.4 1835.5,990.5 1839.4,887.9 1843.3,996.3 1847.2,906.5 1851.1,972.1 1855.0,818.3 1858.9,1010.6 1862.8,816.0 1866.7,984.9 1870.6,868.0 1874.5,968.4 1878.4,976.7 1882.3,1026.8 1886.2,881.8 1890.1,919.9 1894.0,874.0 1897.9,917.8 1901.8,772.5 1905.7,898.2 1909.6,800.2 1913.5,917.0 1917.4,766.7 1921.3,767.0 1925.2,908.3 1929.1,825.2 1933.0,847.1 1937.0,900.4 1940.9,795.1 1944.8,939.1 1948.7,785.7 1952.6,954.9 1956.5,716.6 1960.4,964.7 1964.3,766.4 1968.2,1038.0 1972.1,759.5 1976.0,992.6 1979.9,1085.7 1983.8,774.6 1987.7,1011.0 1991.6,827.2 1995.5,1099.4" stroke="#ff0000"/>
<polyline points="239.0,641.3 242.9,691.6 246.8,653.1 250.7,705.5 254.6,699.3 258.5,730.1 262.4,713.5 266.3,750.5 270.2,741.2 274.1,742.3 278.0,767.5 281.9,757.8 285.8,788.6 289.7,796.7 293.6,803.8 297.6,783.5 301.5,823.9 305.4,791.1 309.3,834.9 313.2,809.3 317.1,840.3 321.0,827.3 324.9,819.9 328.8,852.5 332.7,844.8 336.6,838.2 340.5,866.3 344.4,884.5 348.3,884.4 352.2,867.7 356.1,888.4 360.0,873.2 363.9,897.8 367.8,877.0 371.7,899.8 375.6,889.3 379.5,908.3 383.4,896.2 387.3,915.8 391.2,902.2 395.1,923.6 399.0,907.6 402.9,928.2 406.8,913.8 410.7,936.4 414.6,924.8 418.6,944.4 422.5,930.8 426.4,942.1 430.3,949.6 434.2,940.8 438.1,959.7 442.0,937.6 445.9,937.2 449.8,965.5 453.7,972.4 457.6,950.0 461.5,969.2 465.4,958.6 469.3,973.9 473.2,957.6 477.1,972.6 481.0,961.9 484.9,980.6 488.8,965.4 492.7,988.7 496.6,974.1 500.5,992.6 504.4,976.4 508.3,992.5 512.2,975.6 516.1,997.4 520.0,975.8 523.9,994.0 527.8,987.8 531.8,989.2 535.7,991.2 539.6,1009.1 543.5,993.2 547.4,1004.4 551.3,997.8 555.2,1018.8 559.1,988.1 563.0,1018.7 566.9,998.5 570.8,1005.5 574.7,1021.6 578.6,1003.2 582.5,1023.4 586.4,1010.2 590.3,1035.8 594.2,1025.0 598.1,1026.3 602.0,1010.8 605.9,1010.8 609.8,1030.2 613.7,1004.8 617.6,1026.0 621.5,1020.2 625.4,1034.2 629.3,1047.3 633.2,1020.3 637.1,1037.0 641.0,1017.3 644.9,1043.8 648.9,1008.1 652.8,1053.6 656.7,1027.5 660.6,1028.5 664.5,1054.5 668.4,1031.4 672.3,1048.8 676.2,1033.7 680.1,1044.4 684.0,1036.4 687.9,1039.5 691.8,1032.0 695.7,1059.0 699.6,1032.9 703.5,1050.9 707.4,1055.1 711.3,1041.0 715.2,1069.3 719.1,1047.3 723.0,1067.1 726.9,1045.0 730.8,1060.3 734.7,1041.5 738.6,1072.9 742.5,1042.4 746.4,1073.0 750.3,1036.3 754.2,1070.9 758.1,1057.0 762.0,1071.3 766.0,1052.6 769.9,1081.8 773.8,1071.1 777.7,1049.3 781.6,1074.4 785.5,1058.5 789.4,1079.3 793.3,1058.5 797.2,1056.0 801.1,1068.2 805.0,1054.6 808.9,1076.9 812.8,1054.4 816.7,1078.5 820.6,1074.2 824.5,1062.8 828.4,1074.2 832.3,1063.5 836.2,1074.7 840.1,1057.6 844.0,1077.8 847.9,1048.1 851.8,1087.4 855.7,1067.7 859.6,1093.2 863.5,1067.8 867.4,1094.1 871.3,1065.6 875.2,1089.9 879.1,1068.2 883.0,1087.2 887.0,1061.9 890.9,1087.8 894.8,1069.9 898.7,1082.6 902.6,1076.6 906.5,1087.9 910.4,1076.4 914.3,1075.7 918.2,1090.9 922.1,1092.8 926.0,1074.5 929.9,1099.3 933.8,1066.1 937.7,1090.5 941.6,1078.9 945.5,1096.7 949.4,1092.5 953.3,1076.4 957.2,1096.2 961.1,1069.8 965.0,1096.5 968.9,1077.8 972.8,1096.2 976.7,1073.5 980.6,1098.0 984.5,1070.3 988.4,1097.8 992.3,1069.0 996.2,1077.6 1000.1,1094.1 1004.1,1068.5 1008.0,1100.6 1011.9,1074.4 1015.8,1094.9 1019.7,1081.2 1023.6,1064.7 1027.5,1100.3 1031.4,1080.7 1035.3,1097.7 1039.2,1076.1 1043.1,1099.3 1047.0,1082.9 1050.9,1098.9 1054.8,1112.7 1058.7,1107.8 1062.6,1082.9 1066.5,1094.8 1070.4,1096.6 1074.3,1064.9 1078.2,1086.0 1082.1,1096.6 1086.0,1077.0 1089.9,1100.0 1093.8,1075.0 1097.7,1096.5 1101.6,1086.6 1105.5,1102.2 1109.4,1080.6 1113.3,1099.4 1117.2,1064.6 1121.2,1082.1 1125.1,1098.0 1129.0,1109.8 1132.9,1080.7 1136.8,1100.7 1140.7,1077.5 1144.6,1106.1 1148.5,1069.5 1152.4,1095.0 1156.3,1081.4 1160.2,1108.3 1164.1,1083.0 1168.0,1105.0 1171.9,1082.1 1175.8,1068.6 1179.7,1104.5 1183.6,1082.5 1187.5,1078.1 1191.4,1094.8 1195.3,1079.4 1199.2,1096.9 1203.1,1079.7 1207.0,1092.6 1210.9,1096.6 1214.8,1074.8 1218.7,1091.0 1222.6,1076.1 1226.5,1103.6 1230.4,1099.9 1234.3,1109.6 1238.3,1066.0 1242.2,1097.1 1246.1,1077.8 1250.0,1090.8 1253.9,1065.4 1257.8,1111.6 1261.7,1064.7 1265.6,1093.7 1269.5,1048.9 1273.4,1099.7 1277.3,1049.0 1281.2,1095.2 1285.1,1045.8 1289.0,1091.2 1292.9,1063.9 1296.8,1082.2 1300.7,1093.3 1304.6,1062.5 1308.5,1097.0 1312.4,1053.4 1316.3,1088.8 1320.2,1066.5 1324.1,1072.9 1328.0,1061.1 1331.9,1045.0 1335.8,1084.5 1339.7,1107.8 1343.6,1057.4 1347.5,1090.6 1351.5,1031.9 1355.4,1083.3 1359.3,1100.3 1363.2,1060.0 1367.1,1108.3 1371.0,1042.7 1374.9,1100.2 1378.8,1044.8 1382.7,1088.8 1386.6,1050.4 1390.5,1085.7 1394.4,1075.6 1398.3,1087.4 1402.2,1052.7 1406.1,1088.1 1410.0,1036.8 1413.9,1086.8 1417.8,1055.9 1421.7,1073.2 1425.6,1058.0 1429.5,1079.1 1433.4,1040.5 1437.3,1080.6 1441.2,1056.0 1445.1,1086.7 1449.0,1042.1 1452.9,1075.1 1456.8,1025.6 1460.7,1027.5 1464.6,1068.6 1468.5,1005.8 1472.5,1027.3 1476.4,1085.7 1480.3,1015.3 1484.2,1065.4 1488.1,1019.0 1492.0,1025.4 1495.9,1066.9 1499.8,1028.4 1503.7,1071.4 1507.6,1005.2 1511.5,1072.4 1515.4,1052.9 1519.3,993.4 1523.2,1085.7 1527.1,1027.6 1531.0,1073.9 1534.9,987.4 1538.8,1068.7 1542.7,1025.4 1546.6,1070.8 1550.5,994.9 1554.4,1049.9 1558.3,993.9 1562.2,1044.3 1566.1,998.8 1570.0,992.3 1573.9,1048.2 1577.8,1011.5 1581.7,1109.2 1585.7,1127.5 1589.6,1062.3 1593.5,968.0 1597.4,1054.8 1601.3,968.1 1605.2,1053.3 1609.1,993.0 1613.0,1073.9 1616.9,984.5 1620.8,1066.2 1624.7,941.8 1628.6,1114.2 1632.5,964.2 1636.4,902.9 1640.3,1048.5 1644.2,995.3 1648.1,1050.3 1652.0,985.4 1655.9,1064.5 1659.8,986.0 1663.7,1109.9 1667.6,931.0 1671.5,1038.1 1675.4,960.3 1679.3,931.5 1683.2,875.6 1687.1,1022.5 1691.0,958.5 1694.9,1044.1 1698.8,937.4 1702.8,1050.6 1706.7,891.6 1710.6,1040.4 1714.5,1044.2 1718.4,967.0 1722.3,1043.5 1726.2,1062.0 1730.1,1048.8 1734.0,933.6 1737.9,1027.9 1741.8,939.2 1745.7,1008.4 1749.6,1029.4 1753.5,946.8 1757.4,1012.0 1761.3,895.4 1765.2,984.9 1769.1,927.7 1773.0,999.1 1776.9,913.2 1780.8,983.9 1784.7,917.7 1788.6,1054.6 1792.5,1029.2 1796.4,933.9 1800.3,1052.7 1804.2,929.0 1808.1,978.1 1812.0,924.1 1815.9,996.8 1819.8,937.8 1823.8,1050.4 1827.7,891.7 1831.6,826.6 1835.5,1011.9 1839.4,927.6 1843.3,1010.6 1847.2,942.7 1851.1,1008.7 1855.0,832.1 1858.9,1037.5 1862.8,848.7 1866.7,1007.1 1870.6,895.4 1874.5,1001.8 1878.4,1028.5 1882.3,1052.9 1886.2,907.1 1890.1,944.9 1894.0,894.1 1897.9,942.2 1901.8,803.6 1905.7,913.3 1909.6,812.2 1913.5,950.2 1917.4,787.9 1921.3,803.9 1925.2,932.3 1929.1,856.0 1933.0,873.1 1937.0,919.3 1940.9,822.8 1944.8,955.9 1948.7,806.4 1952.6,949.2 1956.5,722.2 1960.4,969.2 1964.3,779.7 1968.2,1073.1 1972.1,769.8 1976.0,1016.0 1979.9,1052.1 1983.8,813.0 1987.7,1032.9 1991.6,878.8 1995.5,1135.1" stroke="#00ff00"/>
</g>
<rect x="239.0" y="73.0" width="1756.5" height="1287.5" fill="none" stroke="#111" stroke-width="7"/><line x1="207" y1="1360.5" x2="239.0" y2="1360.5" stroke="#111" stroke-width="7"/><line x1="207" y1="1145.9" x2="239.0" y2="1145.9" stroke="#111" stroke-width="7"/><line x1="207" y1="931.3" x2="239.0" y2="931.3" stroke="#111" stroke-width="7"/><line x1="207" y1="716.8" x2="239.0" y2="716.8" stroke="#111" stroke-width="7"/><line x1="207" y1="502.2" x2="239.0" y2="502.2" stroke="#111" stroke-width="7"/><line x1="207" y1="287.6" x2="239.0" y2="287.6" stroke="#111" stroke-width="7"/><line x1="207" y1="73.0" x2="239.0" y2="73.0" stroke="#111" stroke-width="7"/><line x1="223" y1="180.3" x2="239.0" y2="180.3" stroke="#111" stroke-width="7"/><line x1="223" y1="394.9" x2="239.0" y2="394.9" stroke="#111" stroke-width="7"/><line x1="223" y1="609.5" x2="239.0" y2="609.5" stroke="#111" stroke-width="7"/><line x1="223" y1="824.0" x2="239.0" y2="824.0" stroke="#111" stroke-width="7"/><line x1="223" y1="1038.6" x2="239.0" y2="1038.6" stroke="#111" stroke-width="7"/><line x1="223" y1="1253.2" x2="239.0" y2="1253.2" stroke="#111" stroke-width="7"/><line x1="239.0" y1="1360.5" x2="239.0" y2="1388" stroke="#111" stroke-width="7"/><line x1="434.2" y1="1360.5" x2="434.2" y2="1388" stroke="#111" stroke-width="7"/><line x1="629.3" y1="1360.5" x2="629.3" y2="1388" stroke="#111" stroke-width="7"/><line x1="824.5" y1="1360.5" x2="824.5" y2="1388" stroke="#111" stroke-width="7"/><line x1="1019.7" y1="1360.5" x2="1019.7" y2="1388" stroke="#111" stroke-width="7"/><line x1="1214.8" y1="1360.5" x2="1214.8" y2="1388" stroke="#111" stroke-width="7"/><line x1="1410.0" y1="1360.5" x2="1410.0" y2="1388" stroke="#111" stroke-width="7"/><line x1="1605.2" y1="1360.5" x2="1605.2" y2="1388" stroke="#111" stroke-width="7"/><line x1="1800.3" y1="1360.5" x2="1800.3" y2="1388" stroke="#111" stroke-width="7"/><line x1="1995.5" y1="1360.5" x2="1995.5" y2="1388" stroke="#111" stroke-width="7"/><line x1="336.6" y1="1360.5" x2="336.6" y2="1376" stroke="#111" stroke-width="7"/><line x1="531.8" y1="1360.5" x2="531.8" y2="1376" stroke="#111" stroke-width="7"/><line x1="726.9" y1="1360.5" x2="726.9" y2="1376" stroke="#111" stroke-width="7"/><line x1="922.1" y1="1360.5" x2="922.1" y2="1376" stroke="#111" stroke-width="7"/><line x1="1117.2" y1="1360.5" x2="1117.2" y2="1376" stroke="#111" stroke-width="7"/><line x1="1312.4" y1="1360.5" x2="1312.4" y2="1376" stroke="#111" stroke-width="7"/><line x1="1507.6" y1="1360.5" x2="1507.6" y2="1376" stroke="#111" stroke-width="7"/><line x1="1702.8" y1="1360.5" x2="1702.8" y2="1376" stroke="#111" stroke-width="7"/><line x1="1897.9" y1="1360.5" x2="1897.9" y2="1376" stroke="#111" stroke-width="7"/>
<text transform="translate(119.05,1380.53) scale(1.3167,0.8667)" font-size="74" fill="#000">-</text><text transform="translate(196.3,1383.2) scale(1.08,1.035)" font-size="74" text-anchor="end" fill="#000">1</text><rect x="150" y="1376.0" width="21.2" height="8.5" fill="#fefefe"/><rect x="179.3" y="1376.0" width="14" height="8.5" fill="#fefefe"/><text transform="translate(193.8,1168.6) scale(1.08,1.035)" font-size="74" text-anchor="end" fill="#000">0</text><text transform="translate(196.3,954.0) scale(1.08,1.035)" font-size="74" text-anchor="end" fill="#000">1</text><rect x="150" y="946.8" width="21.2" height="8.5" fill="#fefefe"/><rect x="179.3" y="946.8" width="14" height="8.5" fill="#fefefe"/><text transform="translate(193.8,739.5) scale(1.08,1.035)" font-size="74" text-anchor="end" fill="#000">2</text><text transform="translate(193.8,524.9) scale(1.08,1.035)" font-size="74" text-anchor="end" fill="#000">3</text><text transform="translate(193.8,310.3) scale(1.08,1.035)" font-size="74" text-anchor="end" fill="#000">4</text><text transform="translate(193.8,95.7) scale(1.08,1.035)" font-size="74" text-anchor="end" fill="#000">5</text><text transform="translate(239.0,1459) scale(1.08,1.035)" font-size="74" text-anchor="middle" fill="#000">450</text><text transform="translate(434.2,1459) scale(1.08,1.035)" font-size="74" text-anchor="middle" fill="#000">500</text><text transform="translate(629.3,1459) scale(1.08,1.035)" font-size="74" text-anchor="middle" fill="#000">550</text><text transform="translate(824.5,1459) scale(1.08,1.035)" font-size="74" text-anchor="middle" fill="#000">600</text><text transform="translate(1019.7,1459) scale(1.08,1.035)" font-size="74" text-anchor="middle" fill="#000">650</text><text transform="translate(1214.8,1459) scale(1.08,1.035)" font-size="74" text-anchor="middle" fill="#000">700</text><text transform="translate(1410.0,1459) scale(1.08,1.035)" font-size="74" text-anchor="middle" fill="#000">750</text><text transform="translate(1605.2,1459) scale(1.08,1.035)" font-size="74" text-anchor="middle" fill="#000">800</text><text transform="translate(1800.3,1459) scale(1.08,1.035)" font-size="74" text-anchor="middle" fill="#000">850</text><text transform="translate(1995.5,1459) scale(1.08,1.035)" font-size="74" text-anchor="middle" fill="#000">900</text>
<text transform="translate(775.0,1539.0) scale(1.1355,1.0)" font-size="82" font-weight="bold" fill="#000">Wavelength (nm)</text>
<text transform="translate(102.17,939.63) rotate(-90) scale(1.0211,1.1333)" font-size="82" font-weight="bold" fill="#000">Reflectance</text>
<text transform="translate(106.5,446.5) rotate(-90) scale(1.0,1.3158)" font-size="82" font-weight="normal" fill="#000">%</text>
</svg></body></html>
